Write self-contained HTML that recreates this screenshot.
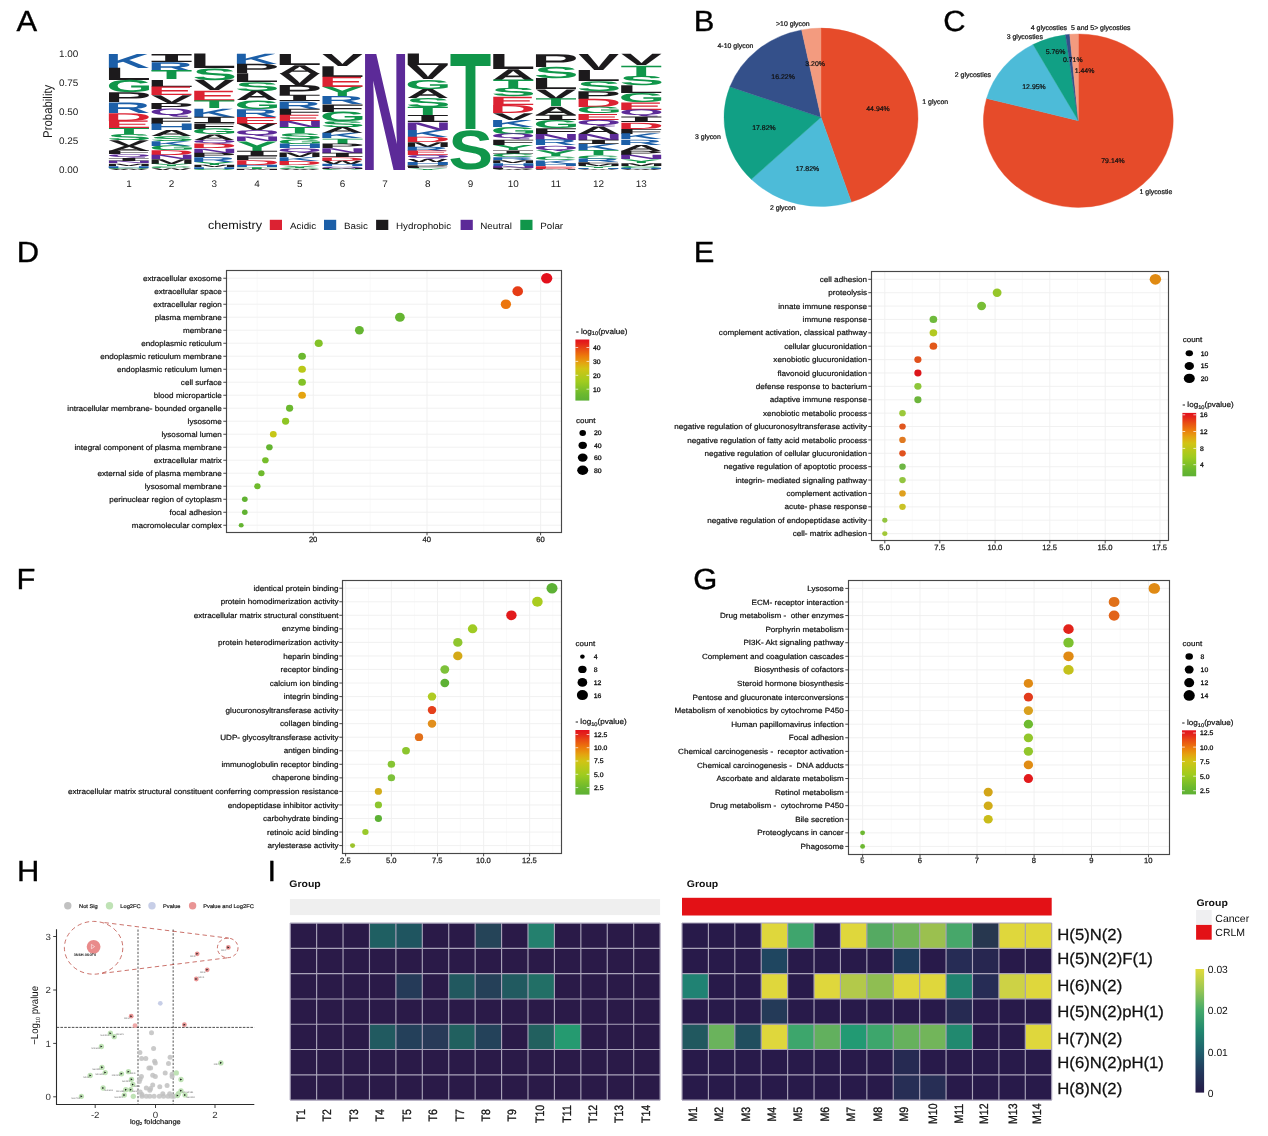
<!DOCTYPE html>
<html><head><meta charset="utf-8"><title>Figure</title>
<style>
html,body{margin:0;padding:0;background:#fff}
svg{display:block}
svg text{font-family:'Liberation Sans', sans-serif;text-rendering:geometricPrecision;}
</style></head><body>
<svg width="1268" height="1136" viewBox="0 0 1268 1136">
<rect width="1268" height="1136" fill="#fff"/>
<text transform="translate(16.40,31.00) scale(1.060,1)" font-size="29.2" stroke="#000" stroke-width="0.35">A</text>
<text transform="translate(693.80,31.00) scale(1.060,1)" font-size="29.2" stroke="#000" stroke-width="0.35">B</text>
<text transform="translate(943.20,30.80) scale(1.060,1)" font-size="29.2" stroke="#000" stroke-width="0.35">C</text>
<text transform="translate(16.70,261.80) scale(1.060,1)" font-size="29.2" stroke="#000" stroke-width="0.35">D</text>
<text transform="translate(693.70,261.80) scale(1.060,1)" font-size="29.2" stroke="#000" stroke-width="0.35">E</text>
<text transform="translate(16.40,589.00) scale(1.060,1)" font-size="29.2" stroke="#000" stroke-width="0.35">F</text>
<text transform="translate(693.20,589.00) scale(1.060,1)" font-size="29.2" stroke="#000" stroke-width="0.35">G</text>
<text transform="translate(16.90,881.20) scale(1.060,1)" font-size="29.2" stroke="#000" stroke-width="0.35">H</text>
<text transform="translate(267.40,881.20) scale(1.060,1)" font-size="29.2" stroke="#000" stroke-width="0.35">I</text>
<g id="logo">
<text transform="translate(108.90,67.82) scale(0.6192,0.2023)" x="-6.69" y="0.00" font-size="100" font-weight="bold" fill="#1C5FA8">K</text>
<text transform="translate(108.90,80.07) scale(0.7794,0.1781)" x="-6.69" y="0.00" font-size="100" font-weight="bold" fill="#1C1A1C">L</text>
<text transform="translate(108.90,92.57) scale(0.5928,0.1764)" x="-4.10" y="-0.98" font-size="100" font-weight="bold" fill="#10964A">G</text>
<text transform="translate(108.90,102.32) scale(0.7068,0.1418)" x="-6.69" y="0.00" font-size="100" font-weight="bold" fill="#1C1A1C">P</text>
<text transform="translate(108.90,112.79) scale(0.6302,0.1522)" x="-6.69" y="0.00" font-size="100" font-weight="bold" fill="#1C5FA8">R</text>
<text transform="translate(108.90,120.53) scale(0.6522,0.1124)" x="-6.69" y="0.00" font-size="100" font-weight="bold" fill="#DC2232">D</text>
<text transform="translate(108.90,127.90) scale(0.7130,0.1072)" x="-6.69" y="0.00" font-size="100" font-weight="bold" fill="#DC2232">E</text>
<text transform="translate(108.90,133.97) scale(0.6793,0.0882)" x="-1.12" y="0.00" font-size="100" font-weight="bold" fill="#10964A">T</text>
<text transform="translate(108.90,140.16) scale(0.6676,0.0874)" x="-2.88" y="-0.98" font-size="100" font-weight="bold" fill="#10964A">S</text>
<text transform="translate(108.90,145.87) scale(0.6123,0.0830)" x="-0.68" y="0.00" font-size="100" font-weight="bold" fill="#1C1A1C">V</text>
<text transform="translate(108.90,150.86) scale(0.5962,0.0726)" x="-2.49" y="0.00" font-size="100" font-weight="bold" fill="#1C1A1C">A</text>
<text transform="translate(108.90,154.43) scale(0.7885,0.0519)" x="-6.69" y="0.00" font-size="100" font-weight="bold" fill="#1C1A1C">F</text>
<text transform="translate(108.90,158.00) scale(0.5757,0.0399)" x="-4.10" y="-19.68" font-size="100" font-weight="bold" fill="#5C2A98">Q</text>
<text transform="translate(108.90,160.98) scale(0.8943,0.0452)" x="-7.67" y="0.00" font-size="100" font-weight="bold" style="font-family:Liberation Mono,monospace" fill="#1C1A1C">I</text>
<text transform="translate(108.90,163.36) scale(0.6804,0.0346)" x="-6.69" y="0.00" font-size="100" font-weight="bold" fill="#5C2A98">N</text>
<text transform="translate(108.90,165.74) scale(0.5721,0.0346)" x="-6.69" y="0.00" font-size="100" font-weight="bold" fill="#1C1A1C">M</text>
<text transform="translate(108.90,167.52) scale(0.6804,0.0259)" x="-6.69" y="0.00" font-size="100" font-weight="bold" fill="#1C5FA8">H</text>
<text transform="translate(108.90,168.71) scale(0.6118,0.0168)" x="-4.10" y="-0.98" font-size="100" font-weight="bold" fill="#10964A">C</text>
<text transform="translate(108.90,169.90) scale(0.4247,0.0173)" x="-0.10" y="0.00" font-size="100" font-weight="bold" fill="#1C1A1C">W</text>
<text transform="translate(151.60,61.87) scale(0.8943,0.1210)" x="-7.67" y="0.00" font-size="100" font-weight="bold" style="font-family:Liberation Mono,monospace" fill="#1C1A1C">I</text>
<text transform="translate(151.60,70.56) scale(0.6302,0.1262)" x="-6.69" y="0.00" font-size="100" font-weight="bold" fill="#1C5FA8">R</text>
<text transform="translate(151.60,79.48) scale(0.6793,0.1297)" x="-1.12" y="0.00" font-size="100" font-weight="bold" fill="#10964A">T</text>
<text transform="translate(151.60,86.62) scale(0.7794,0.1038)" x="-6.69" y="0.00" font-size="100" font-weight="bold" fill="#1C1A1C">L</text>
<text transform="translate(151.60,95.18) scale(0.7130,0.1245)" x="-6.69" y="0.00" font-size="100" font-weight="bold" fill="#DC2232">E</text>
<text transform="translate(151.60,102.92) scale(0.6123,0.1124)" x="-0.68" y="0.00" font-size="100" font-weight="bold" fill="#1C1A1C">V</text>
<text transform="translate(151.60,108.87) scale(0.7068,0.0865)" x="-6.69" y="0.00" font-size="100" font-weight="bold" fill="#1C1A1C">P</text>
<text transform="translate(151.60,117.19) scale(0.5757,0.0931)" x="-4.10" y="-19.68" font-size="100" font-weight="bold" fill="#5C2A98">Q</text>
<text transform="translate(151.60,123.50) scale(0.7885,0.0917)" x="-6.69" y="0.00" font-size="100" font-weight="bold" fill="#1C1A1C">F</text>
<text transform="translate(151.60,130.04) scale(0.6804,0.0951)" x="-6.69" y="0.00" font-size="100" font-weight="bold" fill="#1C5FA8">H</text>
<text transform="translate(151.60,135.99) scale(0.5962,0.0865)" x="-2.49" y="0.00" font-size="100" font-weight="bold" fill="#1C1A1C">A</text>
<text transform="translate(151.60,140.75) scale(0.6676,0.0672)" x="-2.88" y="-0.98" font-size="100" font-weight="bold" fill="#10964A">S</text>
<text transform="translate(151.60,145.51) scale(0.6192,0.0692)" x="-6.69" y="0.00" font-size="100" font-weight="bold" fill="#1C5FA8">K</text>
<text transform="translate(151.60,150.27) scale(0.5928,0.0672)" x="-4.10" y="-0.98" font-size="100" font-weight="bold" fill="#10964A">G</text>
<text transform="translate(151.60,155.03) scale(0.6522,0.0692)" x="-6.69" y="0.00" font-size="100" font-weight="bold" fill="#DC2232">D</text>
<text transform="translate(151.60,159.19) scale(0.6804,0.0605)" x="-6.69" y="0.00" font-size="100" font-weight="bold" fill="#5C2A98">N</text>
<text transform="translate(151.60,163.95) scale(0.5721,0.0692)" x="-6.69" y="0.00" font-size="100" font-weight="bold" fill="#1C1A1C">M</text>
<text transform="translate(151.60,166.33) scale(0.6311,0.0346)" x="-1.71" y="0.00" font-size="100" font-weight="bold" fill="#10964A">Y</text>
<text transform="translate(151.60,168.12) scale(0.6118,0.0252)" x="-4.10" y="-0.98" font-size="100" font-weight="bold" fill="#10964A">C</text>
<text transform="translate(151.60,169.90) scale(0.4247,0.0259)" x="-0.10" y="0.00" font-size="100" font-weight="bold" fill="#1C1A1C">W</text>
<text transform="translate(194.30,68.41) scale(0.7794,0.2110)" x="-6.69" y="0.00" font-size="100" font-weight="bold" fill="#1C1A1C">L</text>
<text transform="translate(194.30,80.07) scale(0.6676,0.1647)" x="-2.88" y="-0.98" font-size="100" font-weight="bold" fill="#10964A">S</text>
<text transform="translate(194.30,90.19) scale(0.6123,0.1470)" x="-0.68" y="0.00" font-size="100" font-weight="bold" fill="#1C1A1C">V</text>
<text transform="translate(194.30,100.54) scale(0.7130,0.1504)" x="-6.69" y="0.00" font-size="100" font-weight="bold" fill="#DC2232">E</text>
<text transform="translate(194.30,108.27) scale(0.6793,0.1124)" x="-1.12" y="0.00" font-size="100" font-weight="bold" fill="#10964A">T</text>
<text transform="translate(194.30,116.60) scale(0.6192,0.1211)" x="-6.69" y="0.00" font-size="100" font-weight="bold" fill="#1C5FA8">K</text>
<text transform="translate(194.30,122.91) scale(0.8943,0.0957)" x="-7.67" y="0.00" font-size="100" font-weight="bold" style="font-family:Liberation Mono,monospace" fill="#1C1A1C">I</text>
<text transform="translate(194.30,128.50) scale(0.7885,0.0813)" x="-6.69" y="0.00" font-size="100" font-weight="bold" fill="#1C1A1C">F</text>
<text transform="translate(194.30,134.21) scale(0.5928,0.0807)" x="-4.10" y="-0.98" font-size="100" font-weight="bold" fill="#10964A">G</text>
<text transform="translate(194.30,139.80) scale(0.5962,0.0813)" x="-2.49" y="0.00" font-size="100" font-weight="bold" fill="#1C1A1C">A</text>
<text transform="translate(194.30,143.96) scale(0.5757,0.0465)" x="-4.10" y="-19.68" font-size="100" font-weight="bold" fill="#5C2A98">Q</text>
<text transform="translate(194.30,148.48) scale(0.6522,0.0657)" x="-6.69" y="0.00" font-size="100" font-weight="bold" fill="#DC2232">D</text>
<text transform="translate(194.30,152.65) scale(0.6804,0.0605)" x="-6.69" y="0.00" font-size="100" font-weight="bold" fill="#5C2A98">N</text>
<text transform="translate(194.30,156.81) scale(0.7068,0.0605)" x="-6.69" y="0.00" font-size="100" font-weight="bold" fill="#1C1A1C">P</text>
<text transform="translate(194.30,161.57) scale(0.6302,0.0692)" x="-6.69" y="0.00" font-size="100" font-weight="bold" fill="#1C5FA8">R</text>
<text transform="translate(194.30,164.55) scale(0.6311,0.0432)" x="-1.71" y="0.00" font-size="100" font-weight="bold" fill="#10964A">Y</text>
<text transform="translate(194.30,166.93) scale(0.5721,0.0346)" x="-6.69" y="0.00" font-size="100" font-weight="bold" fill="#1C1A1C">M</text>
<text transform="translate(194.30,168.71) scale(0.6804,0.0259)" x="-6.69" y="0.00" font-size="100" font-weight="bold" fill="#1C5FA8">H</text>
<text transform="translate(194.30,169.90) scale(0.6118,0.0168)" x="-4.10" y="-0.98" font-size="100" font-weight="bold" fill="#10964A">C</text>
<text transform="translate(237.00,64.01) scale(0.6192,0.1470)" x="-6.69" y="0.00" font-size="100" font-weight="bold" fill="#1C5FA8">K</text>
<text transform="translate(237.00,73.17) scale(0.7068,0.1332)" x="-6.69" y="0.00" font-size="100" font-weight="bold" fill="#1C1A1C">P</text>
<text transform="translate(237.00,81.86) scale(0.7794,0.1262)" x="-6.69" y="0.00" font-size="100" font-weight="bold" fill="#1C1A1C">L</text>
<text transform="translate(237.00,90.78) scale(0.6676,0.1260)" x="-2.88" y="-0.98" font-size="100" font-weight="bold" fill="#10964A">S</text>
<text transform="translate(237.00,100.30) scale(0.5962,0.1383)" x="-2.49" y="0.00" font-size="100" font-weight="bold" fill="#1C1A1C">A</text>
<text transform="translate(237.00,108.87) scale(0.5928,0.1210)" x="-4.10" y="-0.98" font-size="100" font-weight="bold" fill="#10964A">G</text>
<text transform="translate(237.00,116.60) scale(0.6302,0.1124)" x="-6.69" y="0.00" font-size="100" font-weight="bold" fill="#1C5FA8">R</text>
<text transform="translate(237.00,123.50) scale(0.7130,0.1003)" x="-6.69" y="0.00" font-size="100" font-weight="bold" fill="#DC2232">E</text>
<text transform="translate(237.00,130.04) scale(0.6123,0.0951)" x="-0.68" y="0.00" font-size="100" font-weight="bold" fill="#1C1A1C">V</text>
<text transform="translate(237.00,136.59) scale(0.5757,0.0731)" x="-4.10" y="-19.68" font-size="100" font-weight="bold" fill="#5C2A98">Q</text>
<text transform="translate(237.00,141.11) scale(0.6804,0.0657)" x="-6.69" y="0.00" font-size="100" font-weight="bold" fill="#5C2A98">N</text>
<text transform="translate(237.00,150.51) scale(0.6311,0.1366)" x="-1.71" y="0.00" font-size="100" font-weight="bold" fill="#10964A">Y</text>
<text transform="translate(237.00,155.62) scale(0.8943,0.0777)" x="-7.67" y="0.00" font-size="100" font-weight="bold" style="font-family:Liberation Mono,monospace" fill="#1C1A1C">I</text>
<text transform="translate(237.00,159.79) scale(0.7885,0.0605)" x="-6.69" y="0.00" font-size="100" font-weight="bold" fill="#1C1A1C">F</text>
<text transform="translate(237.00,164.55) scale(0.6522,0.0692)" x="-6.69" y="0.00" font-size="100" font-weight="bold" fill="#DC2232">D</text>
<text transform="translate(237.00,166.93) scale(0.6804,0.0346)" x="-6.69" y="0.00" font-size="100" font-weight="bold" fill="#1C5FA8">H</text>
<text transform="translate(237.00,168.71) scale(0.6793,0.0259)" x="-1.12" y="0.00" font-size="100" font-weight="bold" fill="#10964A">T</text>
<text transform="translate(237.00,169.90) scale(0.5721,0.0173)" x="-6.69" y="0.00" font-size="100" font-weight="bold" fill="#1C1A1C">M</text>
<text transform="translate(279.70,64.85) scale(0.7794,0.1591)" x="-6.69" y="0.00" font-size="100" font-weight="bold" fill="#1C1A1C">L</text>
<text transform="translate(279.70,73.53) scale(0.5962,0.1262)" x="-2.49" y="0.00" font-size="100" font-weight="bold" fill="#1C1A1C">A</text>
<text transform="translate(279.70,85.19) scale(0.6123,0.1695)" x="-0.68" y="0.00" font-size="100" font-weight="bold" fill="#1C1A1C">V</text>
<text transform="translate(279.70,95.18) scale(0.7068,0.1453)" x="-6.69" y="0.00" font-size="100" font-weight="bold" fill="#1C1A1C">P</text>
<text transform="translate(279.70,101.49) scale(0.8943,0.0957)" x="-7.67" y="0.00" font-size="100" font-weight="bold" style="font-family:Liberation Mono,monospace" fill="#1C1A1C">I</text>
<text transform="translate(279.70,108.87) scale(0.6302,0.1072)" x="-6.69" y="0.00" font-size="100" font-weight="bold" fill="#1C5FA8">R</text>
<text transform="translate(279.70,115.17) scale(0.7885,0.0917)" x="-6.69" y="0.00" font-size="100" font-weight="bold" fill="#1C1A1C">F</text>
<text transform="translate(279.70,121.36) scale(0.7130,0.0899)" x="-6.69" y="0.00" font-size="100" font-weight="bold" fill="#DC2232">E</text>
<text transform="translate(279.70,127.31) scale(0.6804,0.0865)" x="-6.69" y="0.00" font-size="100" font-weight="bold" fill="#5C2A98">N</text>
<text transform="translate(279.70,133.26) scale(0.6793,0.0865)" x="-1.12" y="0.00" font-size="100" font-weight="bold" fill="#10964A">T</text>
<text transform="translate(279.70,138.97) scale(0.6676,0.0807)" x="-2.88" y="-0.98" font-size="100" font-weight="bold" fill="#10964A">S</text>
<text transform="translate(279.70,143.73) scale(0.5928,0.0672)" x="-4.10" y="-0.98" font-size="100" font-weight="bold" fill="#10964A">G</text>
<text transform="translate(279.70,148.13) scale(0.6804,0.0640)" x="-6.69" y="0.00" font-size="100" font-weight="bold" fill="#1C5FA8">H</text>
<text transform="translate(279.70,152.89) scale(0.5757,0.0532)" x="-4.10" y="-19.68" font-size="100" font-weight="bold" fill="#5C2A98">Q</text>
<text transform="translate(279.70,157.41) scale(0.5721,0.0657)" x="-6.69" y="0.00" font-size="100" font-weight="bold" fill="#1C1A1C">M</text>
<text transform="translate(279.70,161.21) scale(0.6192,0.0553)" x="-6.69" y="0.00" font-size="100" font-weight="bold" fill="#1C5FA8">K</text>
<text transform="translate(279.70,165.14) scale(0.6522,0.0571)" x="-6.69" y="0.00" font-size="100" font-weight="bold" fill="#DC2232">D</text>
<text transform="translate(279.70,167.52) scale(0.6311,0.0346)" x="-1.71" y="0.00" font-size="100" font-weight="bold" fill="#10964A">Y</text>
<text transform="translate(279.70,168.95) scale(0.6118,0.0202)" x="-4.10" y="-0.98" font-size="100" font-weight="bold" fill="#10964A">C</text>
<text transform="translate(279.70,169.90) scale(0.4247,0.0138)" x="-0.10" y="0.00" font-size="100" font-weight="bold" fill="#1C1A1C">W</text>
<text transform="translate(322.40,65.80) scale(0.6123,0.1729)" x="-0.68" y="0.00" font-size="100" font-weight="bold" fill="#1C1A1C">V</text>
<text transform="translate(322.40,76.51) scale(0.7794,0.1556)" x="-6.69" y="0.00" font-size="100" font-weight="bold" fill="#1C1A1C">L</text>
<text transform="translate(322.40,86.86) scale(0.7130,0.1504)" x="-6.69" y="0.00" font-size="100" font-weight="bold" fill="#DC2232">E</text>
<text transform="translate(322.40,96.14) scale(0.6311,0.1349)" x="-1.71" y="0.00" font-size="100" font-weight="bold" fill="#10964A">Y</text>
<text transform="translate(322.40,104.11) scale(0.6302,0.1159)" x="-6.69" y="0.00" font-size="100" font-weight="bold" fill="#1C5FA8">R</text>
<text transform="translate(322.40,111.60) scale(0.7885,0.1089)" x="-6.69" y="0.00" font-size="100" font-weight="bold" fill="#1C1A1C">F</text>
<text transform="translate(322.40,121.12) scale(0.5928,0.1344)" x="-4.10" y="-0.98" font-size="100" font-weight="bold" fill="#10964A">G</text>
<text transform="translate(322.40,127.07) scale(0.6676,0.0840)" x="-2.88" y="-0.98" font-size="100" font-weight="bold" fill="#10964A">S</text>
<text transform="translate(322.40,133.02) scale(0.5962,0.0865)" x="-2.49" y="0.00" font-size="100" font-weight="bold" fill="#1C1A1C">A</text>
<text transform="translate(322.40,138.37) scale(0.6192,0.0778)" x="-6.69" y="0.00" font-size="100" font-weight="bold" fill="#1C5FA8">K</text>
<text transform="translate(322.40,143.73) scale(0.6793,0.0778)" x="-1.12" y="0.00" font-size="100" font-weight="bold" fill="#10964A">T</text>
<text transform="translate(322.40,148.13) scale(0.7068,0.0640)" x="-6.69" y="0.00" font-size="100" font-weight="bold" fill="#1C1A1C">P</text>
<text transform="translate(322.40,152.89) scale(0.6804,0.0692)" x="-6.69" y="0.00" font-size="100" font-weight="bold" fill="#5C2A98">N</text>
<text transform="translate(322.40,157.05) scale(0.8943,0.0632)" x="-7.67" y="0.00" font-size="100" font-weight="bold" style="font-family:Liberation Mono,monospace" fill="#1C1A1C">I</text>
<text transform="translate(322.40,160.62) scale(0.6522,0.0519)" x="-6.69" y="0.00" font-size="100" font-weight="bold" fill="#DC2232">D</text>
<text transform="translate(322.40,163.95) scale(0.4247,0.0484)" x="-0.10" y="0.00" font-size="100" font-weight="bold" fill="#1C1A1C">W</text>
<text transform="translate(322.40,166.33) scale(0.6804,0.0346)" x="-6.69" y="0.00" font-size="100" font-weight="bold" fill="#1C5FA8">H</text>
<text transform="translate(322.40,168.12) scale(0.5757,0.0199)" x="-4.10" y="-19.68" font-size="100" font-weight="bold" fill="#5C2A98">Q</text>
<text transform="translate(322.40,169.07) scale(0.5721,0.0138)" x="-6.69" y="0.00" font-size="100" font-weight="bold" fill="#1C1A1C">M</text>
<text transform="translate(322.40,169.90) scale(0.6118,0.0118)" x="-4.10" y="-0.98" font-size="100" font-weight="bold" fill="#10964A">C</text>
<text transform="translate(365.10,169.90) scale(0.6804,1.6861)" x="-6.69" y="0.00" font-size="100" font-weight="bold" fill="#5C2A98">N</text>
<text transform="translate(407.80,65.44) scale(0.7794,0.1677)" x="-6.69" y="0.00" font-size="100" font-weight="bold" fill="#1C1A1C">L</text>
<text transform="translate(407.80,79.48) scale(0.6123,0.2041)" x="-0.68" y="0.00" font-size="100" font-weight="bold" fill="#1C1A1C">V</text>
<text transform="translate(407.80,88.64) scale(0.5928,0.1294)" x="-4.10" y="-0.98" font-size="100" font-weight="bold" fill="#10964A">G</text>
<text transform="translate(407.80,97.56) scale(0.5962,0.1297)" x="-2.49" y="0.00" font-size="100" font-weight="bold" fill="#1C1A1C">A</text>
<text transform="translate(407.80,106.84) scale(0.6676,0.1311)" x="-2.88" y="-0.98" font-size="100" font-weight="bold" fill="#10964A">S</text>
<text transform="translate(407.80,115.17) scale(0.6793,0.1211)" x="-1.12" y="0.00" font-size="100" font-weight="bold" fill="#10964A">T</text>
<text transform="translate(407.80,122.31) scale(0.8943,0.1084)" x="-7.67" y="0.00" font-size="100" font-weight="bold" style="font-family:Liberation Mono,monospace" fill="#1C1A1C">I</text>
<text transform="translate(407.80,129.69) scale(0.6804,0.1072)" x="-6.69" y="0.00" font-size="100" font-weight="bold" fill="#5C2A98">N</text>
<text transform="translate(407.80,136.59) scale(0.6192,0.1003)" x="-6.69" y="0.00" font-size="100" font-weight="bold" fill="#1C5FA8">K</text>
<text transform="translate(407.80,141.94) scale(0.6522,0.0778)" x="-6.69" y="0.00" font-size="100" font-weight="bold" fill="#DC2232">D</text>
<text transform="translate(407.80,146.70) scale(0.5721,0.0692)" x="-6.69" y="0.00" font-size="100" font-weight="bold" fill="#1C1A1C">M</text>
<text transform="translate(407.80,150.86) scale(0.6302,0.0605)" x="-6.69" y="0.00" font-size="100" font-weight="bold" fill="#1C5FA8">R</text>
<text transform="translate(407.80,155.27) scale(0.7130,0.0640)" x="-6.69" y="0.00" font-size="100" font-weight="bold" fill="#DC2232">E</text>
<text transform="translate(407.80,159.19) scale(0.5757,0.0439)" x="-4.10" y="-19.68" font-size="100" font-weight="bold" fill="#5C2A98">Q</text>
<text transform="translate(407.80,162.17) scale(0.4247,0.0432)" x="-0.10" y="0.00" font-size="100" font-weight="bold" fill="#1C1A1C">W</text>
<text transform="translate(407.80,165.14) scale(0.6804,0.0432)" x="-6.69" y="0.00" font-size="100" font-weight="bold" fill="#1C5FA8">H</text>
<text transform="translate(407.80,166.93) scale(0.7068,0.0259)" x="-6.69" y="0.00" font-size="100" font-weight="bold" fill="#1C1A1C">P</text>
<text transform="translate(407.80,168.47) scale(0.7885,0.0225)" x="-6.69" y="0.00" font-size="100" font-weight="bold" fill="#1C1A1C">F</text>
<text transform="translate(407.80,169.90) scale(0.6311,0.0208)" x="-1.71" y="0.00" font-size="100" font-weight="bold" fill="#10964A">Y</text>
<text transform="translate(450.50,128.97) scale(0.6793,1.0912)" x="-1.12" y="0.00" font-size="100" font-weight="bold" fill="#10964A">T</text>
<text transform="translate(450.50,169.90) scale(0.6676,0.5545)" x="-2.88" y="-0.98" font-size="100" font-weight="bold" fill="#10964A">S</text>
<text transform="translate(493.20,68.79) scale(0.7794,0.2164)" x="-6.69" y="0.00" font-size="100" font-weight="bold" fill="#1C1A1C">L</text>
<text transform="translate(493.20,79.57) scale(0.5962,0.1567)" x="-2.49" y="0.00" font-size="100" font-weight="bold" fill="#1C1A1C">A</text>
<text transform="translate(493.20,87.93) scale(0.6793,0.1216)" x="-1.12" y="0.00" font-size="100" font-weight="bold" fill="#10964A">T</text>
<text transform="translate(493.20,96.44) scale(0.6676,0.1202)" x="-2.88" y="-0.98" font-size="100" font-weight="bold" fill="#10964A">S</text>
<text transform="translate(493.20,104.67) scale(0.7130,0.1196)" x="-6.69" y="0.00" font-size="100" font-weight="bold" fill="#DC2232">E</text>
<text transform="translate(493.20,112.75) scale(0.6522,0.1175)" x="-6.69" y="0.00" font-size="100" font-weight="bold" fill="#DC2232">D</text>
<text transform="translate(493.20,119.56) scale(0.6123,0.0989)" x="-0.68" y="0.00" font-size="100" font-weight="bold" fill="#1C1A1C">V</text>
<text transform="translate(493.20,126.65) scale(0.6192,0.1031)" x="-6.69" y="0.00" font-size="100" font-weight="bold" fill="#1C5FA8">K</text>
<text transform="translate(493.20,133.74) scale(0.5928,0.1001)" x="-4.10" y="-0.98" font-size="100" font-weight="bold" fill="#10964A">G</text>
<text transform="translate(493.20,139.69) scale(0.5757,0.0665)" x="-4.10" y="-19.68" font-size="100" font-weight="bold" fill="#5C2A98">Q</text>
<text transform="translate(493.20,145.08) scale(0.7885,0.0783)" x="-6.69" y="0.00" font-size="100" font-weight="bold" fill="#1C1A1C">F</text>
<text transform="translate(493.20,150.05) scale(0.6311,0.0721)" x="-1.71" y="0.00" font-size="100" font-weight="bold" fill="#10964A">Y</text>
<text transform="translate(493.20,153.59) scale(0.8943,0.0538)" x="-7.67" y="0.00" font-size="100" font-weight="bold" style="font-family:Liberation Mono,monospace" fill="#1C1A1C">I</text>
<text transform="translate(493.20,157.14) scale(0.6118,0.0501)" x="-4.10" y="-0.98" font-size="100" font-weight="bold" fill="#10964A">C</text>
<text transform="translate(493.20,159.97) scale(0.6302,0.0412)" x="-6.69" y="0.00" font-size="100" font-weight="bold" fill="#1C5FA8">R</text>
<text transform="translate(493.20,162.81) scale(0.5721,0.0412)" x="-6.69" y="0.00" font-size="100" font-weight="bold" fill="#1C1A1C">M</text>
<text transform="translate(493.20,165.65) scale(0.6804,0.0412)" x="-6.69" y="0.00" font-size="100" font-weight="bold" fill="#1C5FA8">H</text>
<text transform="translate(493.20,167.77) scale(0.6804,0.0309)" x="-6.69" y="0.00" font-size="100" font-weight="bold" fill="#5C2A98">N</text>
<text transform="translate(493.20,168.91) scale(0.7068,0.0165)" x="-6.69" y="0.00" font-size="100" font-weight="bold" fill="#1C1A1C">P</text>
<text transform="translate(493.20,169.90) scale(0.4247,0.0144)" x="-0.10" y="0.00" font-size="100" font-weight="bold" fill="#1C1A1C">W</text>
<text transform="translate(535.90,66.66) scale(0.7068,0.1855)" x="-6.69" y="0.00" font-size="100" font-weight="bold" fill="#1C1A1C">P</text>
<text transform="translate(535.90,78.01) scale(0.6676,0.1602)" x="-2.88" y="-0.98" font-size="100" font-weight="bold" fill="#10964A">S</text>
<text transform="translate(535.90,89.07) scale(0.7794,0.1608)" x="-6.69" y="0.00" font-size="100" font-weight="bold" fill="#1C1A1C">L</text>
<text transform="translate(535.90,98.57) scale(0.6123,0.1381)" x="-0.68" y="0.00" font-size="100" font-weight="bold" fill="#1C1A1C">V</text>
<text transform="translate(535.90,106.37) scale(0.6793,0.1134)" x="-1.12" y="0.00" font-size="100" font-weight="bold" fill="#10964A">T</text>
<text transform="translate(535.90,114.59) scale(0.5962,0.1196)" x="-2.49" y="0.00" font-size="100" font-weight="bold" fill="#1C1A1C">A</text>
<text transform="translate(535.90,119.84) scale(0.8943,0.0797)" x="-7.67" y="0.00" font-size="100" font-weight="bold" style="font-family:Liberation Mono,monospace" fill="#1C1A1C">I</text>
<text transform="translate(535.90,128.07) scale(0.5928,0.1162)" x="-4.10" y="-0.98" font-size="100" font-weight="bold" fill="#10964A">G</text>
<text transform="translate(535.90,133.74) scale(0.7885,0.0824)" x="-6.69" y="0.00" font-size="100" font-weight="bold" fill="#1C1A1C">F</text>
<text transform="translate(535.90,139.69) scale(0.6804,0.0866)" x="-6.69" y="0.00" font-size="100" font-weight="bold" fill="#5C2A98">N</text>
<text transform="translate(535.90,145.37) scale(0.6302,0.0824)" x="-6.69" y="0.00" font-size="100" font-weight="bold" fill="#1C5FA8">R</text>
<text transform="translate(535.90,150.76) scale(0.5757,0.0602)" x="-4.10" y="-19.68" font-size="100" font-weight="bold" fill="#5C2A98">Q</text>
<text transform="translate(535.90,156.43) scale(0.6311,0.0824)" x="-1.71" y="0.00" font-size="100" font-weight="bold" fill="#10964A">Y</text>
<text transform="translate(535.90,159.97) scale(0.6118,0.0501)" x="-4.10" y="-0.98" font-size="100" font-weight="bold" fill="#10964A">C</text>
<text transform="translate(535.90,163.52) scale(0.6192,0.0515)" x="-6.69" y="0.00" font-size="100" font-weight="bold" fill="#1C5FA8">K</text>
<text transform="translate(535.90,166.35) scale(0.6804,0.0412)" x="-6.69" y="0.00" font-size="100" font-weight="bold" fill="#1C5FA8">H</text>
<text transform="translate(535.90,168.20) scale(0.7130,0.0268)" x="-6.69" y="0.00" font-size="100" font-weight="bold" fill="#DC2232">E</text>
<text transform="translate(535.90,169.19) scale(0.6522,0.0144)" x="-6.69" y="0.00" font-size="100" font-weight="bold" fill="#DC2232">D</text>
<text transform="translate(535.90,169.90) scale(0.5721,0.0103)" x="-6.69" y="0.00" font-size="100" font-weight="bold" fill="#1C1A1C">M</text>
<text transform="translate(578.60,69.92) scale(0.6123,0.2329)" x="-0.68" y="0.00" font-size="100" font-weight="bold" fill="#1C1A1C">V</text>
<text transform="translate(578.60,80.84) scale(0.7794,0.1587)" x="-6.69" y="0.00" font-size="100" font-weight="bold" fill="#1C1A1C">L</text>
<text transform="translate(578.60,90.77) scale(0.6676,0.1402)" x="-2.88" y="-0.98" font-size="100" font-weight="bold" fill="#10964A">S</text>
<text transform="translate(578.60,98.57) scale(0.7068,0.1134)" x="-6.69" y="0.00" font-size="100" font-weight="bold" fill="#1C1A1C">P</text>
<text transform="translate(578.60,106.79) scale(0.6522,0.1196)" x="-6.69" y="0.00" font-size="100" font-weight="bold" fill="#DC2232">D</text>
<text transform="translate(578.60,113.46) scale(0.5928,0.0941)" x="-4.10" y="-0.98" font-size="100" font-weight="bold" fill="#10964A">G</text>
<text transform="translate(578.60,119.56) scale(0.7130,0.0886)" x="-6.69" y="0.00" font-size="100" font-weight="bold" fill="#DC2232">E</text>
<text transform="translate(578.60,126.22) scale(0.5757,0.0745)" x="-4.10" y="-19.68" font-size="100" font-weight="bold" fill="#5C2A98">Q</text>
<text transform="translate(578.60,133.74) scale(0.5962,0.1092)" x="-2.49" y="0.00" font-size="100" font-weight="bold" fill="#1C1A1C">A</text>
<text transform="translate(578.60,139.69) scale(0.6804,0.0866)" x="-6.69" y="0.00" font-size="100" font-weight="bold" fill="#5C2A98">N</text>
<text transform="translate(578.60,143.95) scale(0.8943,0.0646)" x="-7.67" y="0.00" font-size="100" font-weight="bold" style="font-family:Liberation Mono,monospace" fill="#1C1A1C">I</text>
<text transform="translate(578.60,150.05) scale(0.6192,0.0886)" x="-6.69" y="0.00" font-size="100" font-weight="bold" fill="#1C5FA8">K</text>
<text transform="translate(578.60,155.01) scale(0.6793,0.0721)" x="-1.12" y="0.00" font-size="100" font-weight="bold" fill="#10964A">T</text>
<text transform="translate(578.60,158.56) scale(0.6118,0.0501)" x="-4.10" y="-0.98" font-size="100" font-weight="bold" fill="#10964A">C</text>
<text transform="translate(578.60,162.10) scale(0.6302,0.0515)" x="-6.69" y="0.00" font-size="100" font-weight="bold" fill="#1C5FA8">R</text>
<text transform="translate(578.60,163.94) scale(0.7885,0.0268)" x="-6.69" y="0.00" font-size="100" font-weight="bold" fill="#1C1A1C">F</text>
<text transform="translate(578.60,166.35) scale(0.5721,0.0350)" x="-6.69" y="0.00" font-size="100" font-weight="bold" fill="#1C1A1C">M</text>
<text transform="translate(578.60,168.20) scale(0.6311,0.0268)" x="-1.71" y="0.00" font-size="100" font-weight="bold" fill="#10964A">Y</text>
<text transform="translate(578.60,169.19) scale(0.6804,0.0144)" x="-6.69" y="0.00" font-size="100" font-weight="bold" fill="#1C5FA8">H</text>
<text transform="translate(578.60,169.90) scale(0.4247,0.0103)" x="-0.10" y="0.00" font-size="100" font-weight="bold" fill="#1C1A1C">W</text>
<text transform="translate(621.30,65.24) scale(0.6123,0.1649)" x="-0.68" y="0.00" font-size="100" font-weight="bold" fill="#1C1A1C">V</text>
<text transform="translate(621.30,75.60) scale(0.6793,0.1505)" x="-1.12" y="0.00" font-size="100" font-weight="bold" fill="#10964A">T</text>
<text transform="translate(621.30,85.10) scale(0.6676,0.1342)" x="-2.88" y="-0.98" font-size="100" font-weight="bold" fill="#10964A">S</text>
<text transform="translate(621.30,92.90) scale(0.7794,0.1134)" x="-6.69" y="0.00" font-size="100" font-weight="bold" fill="#1C1A1C">L</text>
<text transform="translate(621.30,102.12) scale(0.5928,0.1302)" x="-4.10" y="-0.98" font-size="100" font-weight="bold" fill="#10964A">G</text>
<text transform="translate(621.30,109.63) scale(0.7130,0.1092)" x="-6.69" y="0.00" font-size="100" font-weight="bold" fill="#DC2232">E</text>
<text transform="translate(621.30,117.01) scale(0.5757,0.0824)" x="-4.10" y="-19.68" font-size="100" font-weight="bold" fill="#5C2A98">Q</text>
<text transform="translate(621.30,122.39) scale(0.8943,0.0818)" x="-7.67" y="0.00" font-size="100" font-weight="bold" style="font-family:Liberation Mono,monospace" fill="#1C1A1C">I</text>
<text transform="translate(621.30,128.78) scale(0.6522,0.0928)" x="-6.69" y="0.00" font-size="100" font-weight="bold" fill="#DC2232">D</text>
<text transform="translate(621.30,133.74) scale(0.7885,0.0721)" x="-6.69" y="0.00" font-size="100" font-weight="bold" fill="#1C1A1C">F</text>
<text transform="translate(621.30,139.41) scale(0.6192,0.0824)" x="-6.69" y="0.00" font-size="100" font-weight="bold" fill="#1C5FA8">K</text>
<text transform="translate(621.30,144.66) scale(0.6302,0.0763)" x="-6.69" y="0.00" font-size="100" font-weight="bold" fill="#1C5FA8">R</text>
<text transform="translate(621.30,150.76) scale(0.5962,0.0886)" x="-2.49" y="0.00" font-size="100" font-weight="bold" fill="#1C1A1C">A</text>
<text transform="translate(621.30,155.01) scale(0.7068,0.0618)" x="-6.69" y="0.00" font-size="100" font-weight="bold" fill="#1C1A1C">P</text>
<text transform="translate(621.30,159.26) scale(0.6804,0.0618)" x="-6.69" y="0.00" font-size="100" font-weight="bold" fill="#5C2A98">N</text>
<text transform="translate(621.30,162.81) scale(0.6311,0.0515)" x="-1.71" y="0.00" font-size="100" font-weight="bold" fill="#10964A">Y</text>
<text transform="translate(621.30,165.65) scale(0.5721,0.0412)" x="-6.69" y="0.00" font-size="100" font-weight="bold" fill="#1C1A1C">M</text>
<text transform="translate(621.30,167.77) scale(0.6118,0.0300)" x="-4.10" y="-0.98" font-size="100" font-weight="bold" fill="#10964A">C</text>
<text transform="translate(621.30,168.91) scale(0.6804,0.0165)" x="-6.69" y="0.00" font-size="100" font-weight="bold" fill="#1C5FA8">H</text>
<text transform="translate(621.30,169.90) scale(0.4247,0.0144)" x="-0.10" y="0.00" font-size="100" font-weight="bold" fill="#1C1A1C">W</text>
</g>
<text transform="translate(78.40,57.25) scale(1.045,1)" font-size="9.5" text-anchor="end" fill="#222">1.00</text>
<text transform="translate(78.40,86.25) scale(1.045,1)" font-size="9.5" text-anchor="end" fill="#222">0.75</text>
<text transform="translate(78.40,115.25) scale(1.045,1)" font-size="9.5" text-anchor="end" fill="#222">0.50</text>
<text transform="translate(78.40,144.25) scale(1.045,1)" font-size="9.5" text-anchor="end" fill="#222">0.25</text>
<text transform="translate(78.40,173.25) scale(1.045,1)" font-size="9.5" text-anchor="end" fill="#222">0.00</text>
<text transform="translate(52.4,111.3) rotate(-90) scale(1,1.12)" font-size="11.4" text-anchor="middle" fill="#1a1a1a">Probability</text>
<text transform="translate(128.90,186.90) scale(1.045,1)" font-size="9.5" text-anchor="middle" fill="#222">1</text>
<text transform="translate(171.60,186.90) scale(1.045,1)" font-size="9.5" text-anchor="middle" fill="#222">2</text>
<text transform="translate(214.30,186.90) scale(1.045,1)" font-size="9.5" text-anchor="middle" fill="#222">3</text>
<text transform="translate(257.00,186.90) scale(1.045,1)" font-size="9.5" text-anchor="middle" fill="#222">4</text>
<text transform="translate(299.70,186.90) scale(1.045,1)" font-size="9.5" text-anchor="middle" fill="#222">5</text>
<text transform="translate(342.40,186.90) scale(1.045,1)" font-size="9.5" text-anchor="middle" fill="#222">6</text>
<text transform="translate(385.10,186.90) scale(1.045,1)" font-size="9.5" text-anchor="middle" fill="#222">7</text>
<text transform="translate(427.80,186.90) scale(1.045,1)" font-size="9.5" text-anchor="middle" fill="#222">8</text>
<text transform="translate(470.50,186.90) scale(1.045,1)" font-size="9.5" text-anchor="middle" fill="#222">9</text>
<text transform="translate(513.20,186.90) scale(1.045,1)" font-size="9.5" text-anchor="middle" fill="#222">10</text>
<text transform="translate(555.90,186.90) scale(1.045,1)" font-size="9.5" text-anchor="middle" fill="#222">11</text>
<text transform="translate(598.60,186.90) scale(1.045,1)" font-size="9.5" text-anchor="middle" fill="#222">12</text>
<text transform="translate(641.30,186.90) scale(1.045,1)" font-size="9.5" text-anchor="middle" fill="#222">13</text>
<text transform="translate(208.00,229.30) scale(1.070,1)" font-size="11.8" fill="#111">chemistry</text>
<rect x="269.8" y="219.8" width="12.2" height="10.2" fill="#DC2232"/>
<text transform="translate(290.00,228.60) scale(1.080,1)" font-size="9.1" fill="#111">Acidic</text>
<rect x="324.0" y="219.8" width="12.2" height="10.2" fill="#1C5FA8"/>
<text transform="translate(343.90,228.60) scale(1.080,1)" font-size="9.1" fill="#111">Basic</text>
<rect x="376.1" y="219.8" width="12.2" height="10.2" fill="#1C1A1C"/>
<text transform="translate(396.00,228.60) scale(1.080,1)" font-size="9.1" fill="#111">Hydrophobic</text>
<rect x="460.6" y="219.8" width="12.2" height="10.2" fill="#5C2A98"/>
<text transform="translate(480.20,228.60) scale(1.080,1)" font-size="9.1" fill="#111">Neutral</text>
<rect x="520.3" y="219.8" width="12.2" height="10.2" fill="#10964A"/>
<text transform="translate(540.20,228.60) scale(1.080,1)" font-size="9.1" fill="#111">Polar</text>
<path d="M821.00,117.30 L821.00,28.10 A97.0,89.2 0 0 1 851.32,202.03 Z" fill="#E64B2A" stroke="#E64B2A" stroke-width="0.4"/>
<path d="M821.00,117.30 L851.32,202.03 A97.0,89.2 0 0 1 751.30,179.34 Z" fill="#4DBBD8" stroke="#4DBBD8" stroke-width="0.4"/>
<path d="M821.00,117.30 L751.30,179.34 A97.0,89.2 0 0 1 729.90,86.66 Z" fill="#11A085" stroke="#11A085" stroke-width="0.4"/>
<path d="M821.00,117.30 L729.90,86.66 A97.0,89.2 0 0 1 801.63,29.90 Z" fill="#34508A" stroke="#34508A" stroke-width="0.4"/>
<path d="M821.00,117.30 L801.63,29.90 A97.0,89.2 0 0 1 821.00,28.10 Z" fill="#F39B7F" stroke="#F39B7F" stroke-width="0.4"/>
<text transform="translate(922.30,104.20) scale(1.020,1)" font-size="6.8" fill="#111" stroke="#111" stroke-width="0.22">1 glycon</text>
<text transform="translate(769.90,209.90) scale(1.020,1)" font-size="6.8" fill="#111" stroke="#111" stroke-width="0.22">2 glycon</text>
<text transform="translate(695.00,138.60) scale(1.020,1)" font-size="6.8" fill="#111" stroke="#111" stroke-width="0.22">3 glycon</text>
<text transform="translate(717.50,48.30) scale(1.020,1)" font-size="6.8" fill="#111" stroke="#111" stroke-width="0.22">4-10 glycon</text>
<text transform="translate(776.00,26.20) scale(1.020,1)" font-size="6.8" fill="#111" stroke="#111" stroke-width="0.22">&gt;10 glycon</text>
<text transform="translate(878.00,110.60) scale(1.020,1)" font-size="6.8" text-anchor="middle" fill="#111" stroke="#111" stroke-width="0.22">44.94%</text>
<text transform="translate(807.40,170.90) scale(1.020,1)" font-size="6.8" text-anchor="middle" fill="#111" stroke="#111" stroke-width="0.22">17.82%</text>
<text transform="translate(763.90,129.80) scale(1.020,1)" font-size="6.8" text-anchor="middle" fill="#111" stroke="#111" stroke-width="0.22">17.82%</text>
<text transform="translate(783.10,79.00) scale(1.020,1)" font-size="6.8" text-anchor="middle" fill="#111" stroke="#111" stroke-width="0.22">16.22%</text>
<text transform="translate(815.10,66.40) scale(1.020,1)" font-size="6.8" text-anchor="middle" fill="#111" stroke="#111" stroke-width="0.22">3.20%</text>
<path d="M1078.30,120.70 L1078.30,34.00 A94.9,86.7 0 1 1 986.59,98.40 Z" fill="#E64B2A" stroke="#E64B2A" stroke-width="0.4"/>
<path d="M1078.30,120.70 L986.59,98.40 A94.9,86.7 0 0 1 1033.05,44.49 Z" fill="#4DBBD8" stroke="#4DBBD8" stroke-width="0.4"/>
<path d="M1078.30,120.70 L1033.05,44.49 A94.9,86.7 0 0 1 1065.52,34.79 Z" fill="#11A085" stroke="#11A085" stroke-width="0.4"/>
<path d="M1078.30,120.70 L1065.52,34.79 A94.9,86.7 0 0 1 1069.73,34.35 Z" fill="#34508A" stroke="#34508A" stroke-width="0.4"/>
<path d="M1078.30,120.70 L1069.73,34.35 A94.9,86.7 0 0 1 1078.30,34.00 Z" fill="#F39B7F" stroke="#F39B7F" stroke-width="0.4"/>
<text transform="translate(1139.50,194.00) scale(1.020,1)" font-size="6.8" fill="#111" stroke="#111" stroke-width="0.22">1 glycostie</text>
<text transform="translate(954.80,77.20) scale(1.020,1)" font-size="6.8" fill="#111" stroke="#111" stroke-width="0.22">2 glycosties</text>
<text transform="translate(1006.70,38.80) scale(1.020,1)" font-size="6.8" fill="#111" stroke="#111" stroke-width="0.22">3 glycosties</text>
<text transform="translate(1030.80,30.20) scale(1.020,1)" font-size="6.8" fill="#111" stroke="#111" stroke-width="0.22">4 glycosties</text>
<text transform="translate(1071.00,30.20) scale(1.020,1)" font-size="6.8" fill="#111" stroke="#111" stroke-width="0.22">5 and 5&gt; glycosties</text>
<text transform="translate(1113.00,163.00) scale(1.020,1)" font-size="6.8" text-anchor="middle" fill="#111" stroke="#111" stroke-width="0.22">79.14%</text>
<text transform="translate(1034.00,89.40) scale(1.020,1)" font-size="6.8" text-anchor="middle" fill="#111" stroke="#111" stroke-width="0.22">12.95%</text>
<text transform="translate(1055.50,54.40) scale(1.020,1)" font-size="6.8" text-anchor="middle" fill="#111" stroke="#111" stroke-width="0.22">5.76%</text>
<text transform="translate(1072.80,62.40) scale(1.020,1)" font-size="6.8" text-anchor="middle" fill="#111" stroke="#111" stroke-width="0.22">0.71%</text>
<text transform="translate(1084.50,72.60) scale(1.020,1)" font-size="6.8" text-anchor="middle" fill="#111" stroke="#111" stroke-width="0.22">1.44%</text>
<defs><linearGradient id="gyr" x1="0" y1="1" x2="0" y2="0"><stop offset="0" stop-color="#5DB034"/><stop offset="0.11" stop-color="#6CB92E"/><stop offset="0.31" stop-color="#A0CC1E"/><stop offset="0.52" stop-color="#D2C414"/><stop offset="0.62" stop-color="#E4A410"/><stop offset="0.73" stop-color="#EC7A0C"/><stop offset="0.85" stop-color="#E84A14"/><stop offset="0.93" stop-color="#E4261A"/><stop offset="1" stop-color="#E3101C"/></linearGradient></defs>
<g>
<rect x="226.5" y="270.5" width="335.00" height="262.00" fill="#fff"/>
<line x1="257.2" y1="270.5" x2="257.2" y2="532.5" stroke="#F5F5F5" stroke-width="0.55"/>
<line x1="370.2" y1="270.5" x2="370.2" y2="532.5" stroke="#F5F5F5" stroke-width="0.55"/>
<line x1="483.8" y1="270.5" x2="483.8" y2="532.5" stroke="#F5F5F5" stroke-width="0.55"/>
<line x1="313.3" y1="270.5" x2="313.3" y2="532.5" stroke="#EFEFEF" stroke-width="0.9"/>
<line x1="427.0" y1="270.5" x2="427.0" y2="532.5" stroke="#EFEFEF" stroke-width="0.9"/>
<line x1="540.6" y1="270.5" x2="540.6" y2="532.5" stroke="#EFEFEF" stroke-width="0.9"/>
<line x1="226.5" y1="278.25" x2="561.5" y2="278.25" stroke="#EFEFEF" stroke-width="0.9"/>
<line x1="226.5" y1="291.25" x2="561.5" y2="291.25" stroke="#EFEFEF" stroke-width="0.9"/>
<line x1="226.5" y1="304.25" x2="561.5" y2="304.25" stroke="#EFEFEF" stroke-width="0.9"/>
<line x1="226.5" y1="317.25" x2="561.5" y2="317.25" stroke="#EFEFEF" stroke-width="0.9"/>
<line x1="226.5" y1="330.25" x2="561.5" y2="330.25" stroke="#EFEFEF" stroke-width="0.9"/>
<line x1="226.5" y1="343.25" x2="561.5" y2="343.25" stroke="#EFEFEF" stroke-width="0.9"/>
<line x1="226.5" y1="356.25" x2="561.5" y2="356.25" stroke="#EFEFEF" stroke-width="0.9"/>
<line x1="226.5" y1="369.25" x2="561.5" y2="369.25" stroke="#EFEFEF" stroke-width="0.9"/>
<line x1="226.5" y1="382.25" x2="561.5" y2="382.25" stroke="#EFEFEF" stroke-width="0.9"/>
<line x1="226.5" y1="395.25" x2="561.5" y2="395.25" stroke="#EFEFEF" stroke-width="0.9"/>
<line x1="226.5" y1="408.25" x2="561.5" y2="408.25" stroke="#EFEFEF" stroke-width="0.9"/>
<line x1="226.5" y1="421.25" x2="561.5" y2="421.25" stroke="#EFEFEF" stroke-width="0.9"/>
<line x1="226.5" y1="434.25" x2="561.5" y2="434.25" stroke="#EFEFEF" stroke-width="0.9"/>
<line x1="226.5" y1="447.25" x2="561.5" y2="447.25" stroke="#EFEFEF" stroke-width="0.9"/>
<line x1="226.5" y1="460.25" x2="561.5" y2="460.25" stroke="#EFEFEF" stroke-width="0.9"/>
<line x1="226.5" y1="473.25" x2="561.5" y2="473.25" stroke="#EFEFEF" stroke-width="0.9"/>
<line x1="226.5" y1="486.25" x2="561.5" y2="486.25" stroke="#EFEFEF" stroke-width="0.9"/>
<line x1="226.5" y1="499.25" x2="561.5" y2="499.25" stroke="#EFEFEF" stroke-width="0.9"/>
<line x1="226.5" y1="512.25" x2="561.5" y2="512.25" stroke="#EFEFEF" stroke-width="0.9"/>
<line x1="226.5" y1="525.25" x2="561.5" y2="525.25" stroke="#EFEFEF" stroke-width="0.9"/>
<ellipse cx="546.7" cy="278.25" rx="5.62" ry="5.30" fill="#E3101C"/>
<ellipse cx="517.7" cy="291.25" rx="5.30" ry="5.00" fill="#E63C16"/>
<ellipse cx="505.9" cy="304.25" rx="5.14" ry="4.85" fill="#EC760D"/>
<ellipse cx="399.9" cy="317.25" rx="4.88" ry="4.60" fill="#65B531"/>
<ellipse cx="359.4" cy="330.25" rx="4.45" ry="4.20" fill="#65B531"/>
<ellipse cx="318.7" cy="343.25" rx="4.03" ry="3.80" fill="#83C227"/>
<ellipse cx="302.1" cy="356.25" rx="3.82" ry="3.60" fill="#6BB82F"/>
<ellipse cx="302.1" cy="369.25" rx="3.82" ry="3.60" fill="#BAC819"/>
<ellipse cx="302.1" cy="382.25" rx="3.82" ry="3.60" fill="#83C227"/>
<ellipse cx="302.1" cy="395.25" rx="3.82" ry="3.60" fill="#E4A410"/>
<ellipse cx="289.6" cy="408.25" rx="3.60" ry="3.40" fill="#6BB82F"/>
<ellipse cx="285.6" cy="421.25" rx="3.60" ry="3.40" fill="#8EC524"/>
<ellipse cx="273.3" cy="434.25" rx="3.39" ry="3.20" fill="#C6C616"/>
<ellipse cx="269.4" cy="447.25" rx="3.29" ry="3.10" fill="#64B431"/>
<ellipse cx="265.4" cy="460.25" rx="3.29" ry="3.10" fill="#76BD2B"/>
<ellipse cx="261.4" cy="473.25" rx="3.18" ry="3.00" fill="#6FBA2D"/>
<ellipse cx="257.4" cy="486.25" rx="3.18" ry="3.00" fill="#6FBA2D"/>
<ellipse cx="244.8" cy="499.25" rx="2.86" ry="2.70" fill="#61B232"/>
<ellipse cx="244.8" cy="512.25" rx="2.81" ry="2.65" fill="#61B232"/>
<ellipse cx="241.2" cy="525.25" rx="2.49" ry="2.35" fill="#64B431"/>
<rect x="226.5" y="270.5" width="335.00" height="262.00" fill="none" stroke="#484848" stroke-width="1.15"/>
<line x1="223.30" y1="278.25" x2="226.5" y2="278.25" stroke="#333" stroke-width="0.9"/>
<text transform="translate(221.80,280.85) scale(1.080,1)" font-size="7.5" text-anchor="end" fill="#111" stroke="#111" stroke-width="0.2">extracellular exosome</text>
<line x1="223.30" y1="291.25" x2="226.5" y2="291.25" stroke="#333" stroke-width="0.9"/>
<text transform="translate(221.80,293.85) scale(1.080,1)" font-size="7.5" text-anchor="end" fill="#111" stroke="#111" stroke-width="0.2">extracellular space</text>
<line x1="223.30" y1="304.25" x2="226.5" y2="304.25" stroke="#333" stroke-width="0.9"/>
<text transform="translate(221.80,306.85) scale(1.080,1)" font-size="7.5" text-anchor="end" fill="#111" stroke="#111" stroke-width="0.2">extracellular region</text>
<line x1="223.30" y1="317.25" x2="226.5" y2="317.25" stroke="#333" stroke-width="0.9"/>
<text transform="translate(221.80,319.85) scale(1.080,1)" font-size="7.5" text-anchor="end" fill="#111" stroke="#111" stroke-width="0.2">plasma membrane</text>
<line x1="223.30" y1="330.25" x2="226.5" y2="330.25" stroke="#333" stroke-width="0.9"/>
<text transform="translate(221.80,332.85) scale(1.080,1)" font-size="7.5" text-anchor="end" fill="#111" stroke="#111" stroke-width="0.2">membrane</text>
<line x1="223.30" y1="343.25" x2="226.5" y2="343.25" stroke="#333" stroke-width="0.9"/>
<text transform="translate(221.80,345.85) scale(1.080,1)" font-size="7.5" text-anchor="end" fill="#111" stroke="#111" stroke-width="0.2">endoplasmic reticulum</text>
<line x1="223.30" y1="356.25" x2="226.5" y2="356.25" stroke="#333" stroke-width="0.9"/>
<text transform="translate(221.80,358.85) scale(1.080,1)" font-size="7.5" text-anchor="end" fill="#111" stroke="#111" stroke-width="0.2">endoplasmic reticulum membrane</text>
<line x1="223.30" y1="369.25" x2="226.5" y2="369.25" stroke="#333" stroke-width="0.9"/>
<text transform="translate(221.80,371.85) scale(1.080,1)" font-size="7.5" text-anchor="end" fill="#111" stroke="#111" stroke-width="0.2">endoplasmic reticulum lumen</text>
<line x1="223.30" y1="382.25" x2="226.5" y2="382.25" stroke="#333" stroke-width="0.9"/>
<text transform="translate(221.80,384.85) scale(1.080,1)" font-size="7.5" text-anchor="end" fill="#111" stroke="#111" stroke-width="0.2">cell surface</text>
<line x1="223.30" y1="395.25" x2="226.5" y2="395.25" stroke="#333" stroke-width="0.9"/>
<text transform="translate(221.80,397.85) scale(1.080,1)" font-size="7.5" text-anchor="end" fill="#111" stroke="#111" stroke-width="0.2">blood microparticle</text>
<line x1="223.30" y1="408.25" x2="226.5" y2="408.25" stroke="#333" stroke-width="0.9"/>
<text transform="translate(221.80,410.85) scale(1.080,1)" font-size="7.5" text-anchor="end" fill="#111" stroke="#111" stroke-width="0.2">intracellular membrane- bounded organelle</text>
<line x1="223.30" y1="421.25" x2="226.5" y2="421.25" stroke="#333" stroke-width="0.9"/>
<text transform="translate(221.80,423.85) scale(1.080,1)" font-size="7.5" text-anchor="end" fill="#111" stroke="#111" stroke-width="0.2">lysosome</text>
<line x1="223.30" y1="434.25" x2="226.5" y2="434.25" stroke="#333" stroke-width="0.9"/>
<text transform="translate(221.80,436.85) scale(1.080,1)" font-size="7.5" text-anchor="end" fill="#111" stroke="#111" stroke-width="0.2">lysosomal lumen</text>
<line x1="223.30" y1="447.25" x2="226.5" y2="447.25" stroke="#333" stroke-width="0.9"/>
<text transform="translate(221.80,449.85) scale(1.080,1)" font-size="7.5" text-anchor="end" fill="#111" stroke="#111" stroke-width="0.2">integral component of plasma membrane</text>
<line x1="223.30" y1="460.25" x2="226.5" y2="460.25" stroke="#333" stroke-width="0.9"/>
<text transform="translate(221.80,462.85) scale(1.080,1)" font-size="7.5" text-anchor="end" fill="#111" stroke="#111" stroke-width="0.2">extracellular matrix</text>
<line x1="223.30" y1="473.25" x2="226.5" y2="473.25" stroke="#333" stroke-width="0.9"/>
<text transform="translate(221.80,475.85) scale(1.080,1)" font-size="7.5" text-anchor="end" fill="#111" stroke="#111" stroke-width="0.2">external side of plasma membrane</text>
<line x1="223.30" y1="486.25" x2="226.5" y2="486.25" stroke="#333" stroke-width="0.9"/>
<text transform="translate(221.80,488.85) scale(1.080,1)" font-size="7.5" text-anchor="end" fill="#111" stroke="#111" stroke-width="0.2">lysosomal membrane</text>
<line x1="223.30" y1="499.25" x2="226.5" y2="499.25" stroke="#333" stroke-width="0.9"/>
<text transform="translate(221.80,501.85) scale(1.080,1)" font-size="7.5" text-anchor="end" fill="#111" stroke="#111" stroke-width="0.2">perinuclear region of cytoplasm</text>
<line x1="223.30" y1="512.25" x2="226.5" y2="512.25" stroke="#333" stroke-width="0.9"/>
<text transform="translate(221.80,514.85) scale(1.080,1)" font-size="7.5" text-anchor="end" fill="#111" stroke="#111" stroke-width="0.2">focal adhesion</text>
<line x1="223.30" y1="525.25" x2="226.5" y2="525.25" stroke="#333" stroke-width="0.9"/>
<text transform="translate(221.80,527.85) scale(1.080,1)" font-size="7.5" text-anchor="end" fill="#111" stroke="#111" stroke-width="0.2">macromolecular complex</text>
<line x1="313.3" y1="532.5" x2="313.3" y2="535.30" stroke="#333" stroke-width="0.9"/>
<text transform="translate(313.10,541.65)" font-size="7.6" text-anchor="middle" fill="#1a1a1a" stroke="#1a1a1a" stroke-width="0.25">20</text>
<line x1="427.0" y1="532.5" x2="427.0" y2="535.30" stroke="#333" stroke-width="0.9"/>
<text transform="translate(426.80,541.65)" font-size="7.6" text-anchor="middle" fill="#1a1a1a" stroke="#1a1a1a" stroke-width="0.25">40</text>
<line x1="540.6" y1="532.5" x2="540.6" y2="535.30" stroke="#333" stroke-width="0.9"/>
<text transform="translate(540.40,541.65)" font-size="7.6" text-anchor="middle" fill="#1a1a1a" stroke="#1a1a1a" stroke-width="0.25">60</text>
</g>
<text transform="translate(576.00,333.60) scale(1.080,1)" font-size="7.5" fill="#111" stroke="#111" stroke-width="0.2">- log<tspan dy="1.5" font-size="5.3">10</tspan><tspan dy="-1.5">(pvalue)</tspan></text>
<rect x="575.4" y="339.5" width="13.9" height="61.10" fill="url(#gyr)"/>
<line x1="575.4" y1="347.5" x2="578.1999999999999" y2="347.5" stroke="#fff" stroke-width="0.7"/><line x1="586.5" y1="347.5" x2="589.3" y2="347.5" stroke="#fff" stroke-width="0.7"/>
<text transform="translate(593.00,349.90) scale(1.040,1)" font-size="6.6" fill="#111" stroke="#111" stroke-width="0.3">40</text>
<line x1="575.4" y1="361.4" x2="578.1999999999999" y2="361.4" stroke="#fff" stroke-width="0.7"/><line x1="586.5" y1="361.4" x2="589.3" y2="361.4" stroke="#fff" stroke-width="0.7"/>
<text transform="translate(593.00,363.80) scale(1.040,1)" font-size="6.6" fill="#111" stroke="#111" stroke-width="0.3">30</text>
<line x1="575.4" y1="375.3" x2="578.1999999999999" y2="375.3" stroke="#fff" stroke-width="0.7"/><line x1="586.5" y1="375.3" x2="589.3" y2="375.3" stroke="#fff" stroke-width="0.7"/>
<text transform="translate(593.00,377.70) scale(1.040,1)" font-size="6.6" fill="#111" stroke="#111" stroke-width="0.3">20</text>
<line x1="575.4" y1="389.2" x2="578.1999999999999" y2="389.2" stroke="#fff" stroke-width="0.7"/><line x1="586.5" y1="389.2" x2="589.3" y2="389.2" stroke="#fff" stroke-width="0.7"/>
<text transform="translate(593.00,391.60) scale(1.040,1)" font-size="6.6" fill="#111" stroke="#111" stroke-width="0.3">10</text>
<text transform="translate(576.00,423.00) scale(1.080,1)" font-size="7.4" fill="#111" stroke="#111" stroke-width="0.2">count</text>
<ellipse cx="582.7" cy="433.0" rx="3.3" ry="2.9" fill="#000"/>
<text transform="translate(594.00,435.40) scale(1.040,1)" font-size="6.6" fill="#111" stroke="#111" stroke-width="0.3">20</text>
<ellipse cx="582.7" cy="445.3" rx="4.2" ry="3.6" fill="#000"/>
<text transform="translate(594.00,447.70) scale(1.040,1)" font-size="6.6" fill="#111" stroke="#111" stroke-width="0.3">40</text>
<ellipse cx="582.7" cy="457.6" rx="4.9" ry="4.2" fill="#000"/>
<text transform="translate(594.00,460.00) scale(1.040,1)" font-size="6.6" fill="#111" stroke="#111" stroke-width="0.3">60</text>
<ellipse cx="582.7" cy="470.2" rx="5.5" ry="4.7" fill="#000"/>
<text transform="translate(594.00,472.60) scale(1.040,1)" font-size="6.6" fill="#111" stroke="#111" stroke-width="0.3">80</text>
<g>
<rect x="871.5" y="271.5" width="297.00" height="269.00" fill="#fff"/>
<line x1="912.3" y1="271.5" x2="912.3" y2="540.5" stroke="#F5F5F5" stroke-width="0.55"/>
<line x1="967.4" y1="271.5" x2="967.4" y2="540.5" stroke="#F5F5F5" stroke-width="0.55"/>
<line x1="1022.4" y1="271.5" x2="1022.4" y2="540.5" stroke="#F5F5F5" stroke-width="0.55"/>
<line x1="1077.5" y1="271.5" x2="1077.5" y2="540.5" stroke="#F5F5F5" stroke-width="0.55"/>
<line x1="1132.5" y1="271.5" x2="1132.5" y2="540.5" stroke="#F5F5F5" stroke-width="0.55"/>
<line x1="884.8" y1="271.5" x2="884.8" y2="540.5" stroke="#EFEFEF" stroke-width="0.9"/>
<line x1="939.8" y1="271.5" x2="939.8" y2="540.5" stroke="#EFEFEF" stroke-width="0.9"/>
<line x1="995.1" y1="271.5" x2="995.1" y2="540.5" stroke="#EFEFEF" stroke-width="0.9"/>
<line x1="1049.8" y1="271.5" x2="1049.8" y2="540.5" stroke="#EFEFEF" stroke-width="0.9"/>
<line x1="1105.2" y1="271.5" x2="1105.2" y2="540.5" stroke="#EFEFEF" stroke-width="0.9"/>
<line x1="1159.9" y1="271.5" x2="1159.9" y2="540.5" stroke="#EFEFEF" stroke-width="0.9"/>
<line x1="871.5" y1="279.30" x2="1168.5" y2="279.30" stroke="#EFEFEF" stroke-width="0.9"/>
<line x1="871.5" y1="292.68" x2="1168.5" y2="292.68" stroke="#EFEFEF" stroke-width="0.9"/>
<line x1="871.5" y1="306.07" x2="1168.5" y2="306.07" stroke="#EFEFEF" stroke-width="0.9"/>
<line x1="871.5" y1="319.45" x2="1168.5" y2="319.45" stroke="#EFEFEF" stroke-width="0.9"/>
<line x1="871.5" y1="332.84" x2="1168.5" y2="332.84" stroke="#EFEFEF" stroke-width="0.9"/>
<line x1="871.5" y1="346.22" x2="1168.5" y2="346.22" stroke="#EFEFEF" stroke-width="0.9"/>
<line x1="871.5" y1="359.60" x2="1168.5" y2="359.60" stroke="#EFEFEF" stroke-width="0.9"/>
<line x1="871.5" y1="372.99" x2="1168.5" y2="372.99" stroke="#EFEFEF" stroke-width="0.9"/>
<line x1="871.5" y1="386.37" x2="1168.5" y2="386.37" stroke="#EFEFEF" stroke-width="0.9"/>
<line x1="871.5" y1="399.76" x2="1168.5" y2="399.76" stroke="#EFEFEF" stroke-width="0.9"/>
<line x1="871.5" y1="413.14" x2="1168.5" y2="413.14" stroke="#EFEFEF" stroke-width="0.9"/>
<line x1="871.5" y1="426.52" x2="1168.5" y2="426.52" stroke="#EFEFEF" stroke-width="0.9"/>
<line x1="871.5" y1="439.91" x2="1168.5" y2="439.91" stroke="#EFEFEF" stroke-width="0.9"/>
<line x1="871.5" y1="453.29" x2="1168.5" y2="453.29" stroke="#EFEFEF" stroke-width="0.9"/>
<line x1="871.5" y1="466.68" x2="1168.5" y2="466.68" stroke="#EFEFEF" stroke-width="0.9"/>
<line x1="871.5" y1="480.06" x2="1168.5" y2="480.06" stroke="#EFEFEF" stroke-width="0.9"/>
<line x1="871.5" y1="493.44" x2="1168.5" y2="493.44" stroke="#EFEFEF" stroke-width="0.9"/>
<line x1="871.5" y1="506.83" x2="1168.5" y2="506.83" stroke="#EFEFEF" stroke-width="0.9"/>
<line x1="871.5" y1="520.21" x2="1168.5" y2="520.21" stroke="#EFEFEF" stroke-width="0.9"/>
<line x1="871.5" y1="533.60" x2="1168.5" y2="533.60" stroke="#EFEFEF" stroke-width="0.9"/>
<ellipse cx="1155.4" cy="279.30" rx="5.72" ry="5.40" fill="#E08A12"/>
<ellipse cx="997.1" cy="292.68" rx="4.45" ry="4.20" fill="#96C62A"/>
<ellipse cx="981.6" cy="306.07" rx="4.45" ry="4.20" fill="#78BE36"/>
<ellipse cx="933.4" cy="319.45" rx="3.82" ry="3.60" fill="#6FBA3C"/>
<ellipse cx="933.4" cy="332.84" rx="3.82" ry="3.60" fill="#B3C922"/>
<ellipse cx="933.4" cy="346.22" rx="3.82" ry="3.60" fill="#E2581A"/>
<ellipse cx="917.9" cy="359.60" rx="3.60" ry="3.40" fill="#E0501C"/>
<ellipse cx="917.9" cy="372.99" rx="3.60" ry="3.40" fill="#DC161A"/>
<ellipse cx="917.9" cy="386.37" rx="3.60" ry="3.40" fill="#8DC63A"/>
<ellipse cx="917.9" cy="399.76" rx="3.60" ry="3.40" fill="#6DB53C"/>
<ellipse cx="902.5" cy="413.14" rx="3.29" ry="3.10" fill="#9BC83A"/>
<ellipse cx="902.5" cy="426.52" rx="3.29" ry="3.10" fill="#E0561E"/>
<ellipse cx="902.5" cy="439.91" rx="3.29" ry="3.10" fill="#E07A22"/>
<ellipse cx="902.5" cy="453.29" rx="3.29" ry="3.10" fill="#E0521E"/>
<ellipse cx="902.5" cy="466.68" rx="3.29" ry="3.10" fill="#6DB644"/>
<ellipse cx="902.5" cy="480.06" rx="3.29" ry="3.10" fill="#93C540"/>
<ellipse cx="902.5" cy="493.44" rx="3.29" ry="3.10" fill="#DFA01E"/>
<ellipse cx="902.5" cy="506.83" rx="3.29" ry="3.10" fill="#C9C227"/>
<ellipse cx="884.8" cy="520.21" rx="2.60" ry="2.45" fill="#93C540"/>
<ellipse cx="884.8" cy="533.60" rx="2.60" ry="2.45" fill="#A2C838"/>
<rect x="871.5" y="271.5" width="297.00" height="269.00" fill="none" stroke="#484848" stroke-width="1.15"/>
<line x1="868.30" y1="279.30" x2="871.5" y2="279.30" stroke="#333" stroke-width="0.9"/>
<text transform="translate(867.00,281.90) scale(1.080,1)" font-size="7.5" text-anchor="end" fill="#111" stroke="#111" stroke-width="0.2">cell adhesion</text>
<line x1="868.30" y1="292.68" x2="871.5" y2="292.68" stroke="#333" stroke-width="0.9"/>
<text transform="translate(867.00,295.28) scale(1.080,1)" font-size="7.5" text-anchor="end" fill="#111" stroke="#111" stroke-width="0.2">proteolysis</text>
<line x1="868.30" y1="306.07" x2="871.5" y2="306.07" stroke="#333" stroke-width="0.9"/>
<text transform="translate(867.00,308.67) scale(1.080,1)" font-size="7.5" text-anchor="end" fill="#111" stroke="#111" stroke-width="0.2">innate immune response</text>
<line x1="868.30" y1="319.45" x2="871.5" y2="319.45" stroke="#333" stroke-width="0.9"/>
<text transform="translate(867.00,322.05) scale(1.080,1)" font-size="7.5" text-anchor="end" fill="#111" stroke="#111" stroke-width="0.2">immune response</text>
<line x1="868.30" y1="332.84" x2="871.5" y2="332.84" stroke="#333" stroke-width="0.9"/>
<text transform="translate(867.00,335.44) scale(1.080,1)" font-size="7.5" text-anchor="end" fill="#111" stroke="#111" stroke-width="0.2">complement activation, classical pathway</text>
<line x1="868.30" y1="346.22" x2="871.5" y2="346.22" stroke="#333" stroke-width="0.9"/>
<text transform="translate(867.00,348.82) scale(1.080,1)" font-size="7.5" text-anchor="end" fill="#111" stroke="#111" stroke-width="0.2">cellular glucuronidation</text>
<line x1="868.30" y1="359.60" x2="871.5" y2="359.60" stroke="#333" stroke-width="0.9"/>
<text transform="translate(867.00,362.20) scale(1.080,1)" font-size="7.5" text-anchor="end" fill="#111" stroke="#111" stroke-width="0.2">xenobiotic glucuronidation</text>
<line x1="868.30" y1="372.99" x2="871.5" y2="372.99" stroke="#333" stroke-width="0.9"/>
<text transform="translate(867.00,375.59) scale(1.080,1)" font-size="7.5" text-anchor="end" fill="#111" stroke="#111" stroke-width="0.2">flavonoid glucuronidation</text>
<line x1="868.30" y1="386.37" x2="871.5" y2="386.37" stroke="#333" stroke-width="0.9"/>
<text transform="translate(867.00,388.97) scale(1.080,1)" font-size="7.5" text-anchor="end" fill="#111" stroke="#111" stroke-width="0.2">defense response to bacterium</text>
<line x1="868.30" y1="399.76" x2="871.5" y2="399.76" stroke="#333" stroke-width="0.9"/>
<text transform="translate(867.00,402.36) scale(1.080,1)" font-size="7.5" text-anchor="end" fill="#111" stroke="#111" stroke-width="0.2">adaptive immune response</text>
<line x1="868.30" y1="413.14" x2="871.5" y2="413.14" stroke="#333" stroke-width="0.9"/>
<text transform="translate(867.00,415.74) scale(1.080,1)" font-size="7.5" text-anchor="end" fill="#111" stroke="#111" stroke-width="0.2">xenobiotic metabolic process</text>
<line x1="868.30" y1="426.52" x2="871.5" y2="426.52" stroke="#333" stroke-width="0.9"/>
<text transform="translate(867.00,429.12) scale(1.080,1)" font-size="7.5" text-anchor="end" fill="#111" stroke="#111" stroke-width="0.2">negative regulation of glucuronosyltransferase activity</text>
<line x1="868.30" y1="439.91" x2="871.5" y2="439.91" stroke="#333" stroke-width="0.9"/>
<text transform="translate(867.00,442.51) scale(1.080,1)" font-size="7.5" text-anchor="end" fill="#111" stroke="#111" stroke-width="0.2">negative regulation of fatty acid metabolic process</text>
<line x1="868.30" y1="453.29" x2="871.5" y2="453.29" stroke="#333" stroke-width="0.9"/>
<text transform="translate(867.00,455.89) scale(1.080,1)" font-size="7.5" text-anchor="end" fill="#111" stroke="#111" stroke-width="0.2">negative regulation of cellular glucuronidation</text>
<line x1="868.30" y1="466.68" x2="871.5" y2="466.68" stroke="#333" stroke-width="0.9"/>
<text transform="translate(867.00,469.28) scale(1.080,1)" font-size="7.5" text-anchor="end" fill="#111" stroke="#111" stroke-width="0.2">negative regulation of apoptotic process</text>
<line x1="868.30" y1="480.06" x2="871.5" y2="480.06" stroke="#333" stroke-width="0.9"/>
<text transform="translate(867.00,482.66) scale(1.080,1)" font-size="7.5" text-anchor="end" fill="#111" stroke="#111" stroke-width="0.2">integrin- mediated signaling pathway</text>
<line x1="868.30" y1="493.44" x2="871.5" y2="493.44" stroke="#333" stroke-width="0.9"/>
<text transform="translate(867.00,496.04) scale(1.080,1)" font-size="7.5" text-anchor="end" fill="#111" stroke="#111" stroke-width="0.2">complement activation</text>
<line x1="868.30" y1="506.83" x2="871.5" y2="506.83" stroke="#333" stroke-width="0.9"/>
<text transform="translate(867.00,509.43) scale(1.080,1)" font-size="7.5" text-anchor="end" fill="#111" stroke="#111" stroke-width="0.2">acute- phase response</text>
<line x1="868.30" y1="520.21" x2="871.5" y2="520.21" stroke="#333" stroke-width="0.9"/>
<text transform="translate(867.00,522.81) scale(1.080,1)" font-size="7.5" text-anchor="end" fill="#111" stroke="#111" stroke-width="0.2">negative regulation of endopeptidase activity</text>
<line x1="868.30" y1="533.60" x2="871.5" y2="533.60" stroke="#333" stroke-width="0.9"/>
<text transform="translate(867.00,536.20) scale(1.080,1)" font-size="7.5" text-anchor="end" fill="#111" stroke="#111" stroke-width="0.2">cell- matrix adhesion</text>
<line x1="884.8" y1="540.5" x2="884.8" y2="543.30" stroke="#333" stroke-width="0.9"/>
<text transform="translate(884.60,550.45)" font-size="7.6" text-anchor="middle" fill="#1a1a1a" stroke="#1a1a1a" stroke-width="0.25">5.0</text>
<line x1="939.8" y1="540.5" x2="939.8" y2="543.30" stroke="#333" stroke-width="0.9"/>
<text transform="translate(939.60,550.45)" font-size="7.6" text-anchor="middle" fill="#1a1a1a" stroke="#1a1a1a" stroke-width="0.25">7.5</text>
<line x1="995.1" y1="540.5" x2="995.1" y2="543.30" stroke="#333" stroke-width="0.9"/>
<text transform="translate(994.90,550.45)" font-size="7.6" text-anchor="middle" fill="#1a1a1a" stroke="#1a1a1a" stroke-width="0.25">10.0</text>
<line x1="1049.8" y1="540.5" x2="1049.8" y2="543.30" stroke="#333" stroke-width="0.9"/>
<text transform="translate(1049.60,550.45)" font-size="7.6" text-anchor="middle" fill="#1a1a1a" stroke="#1a1a1a" stroke-width="0.25">12.5</text>
<line x1="1105.2" y1="540.5" x2="1105.2" y2="543.30" stroke="#333" stroke-width="0.9"/>
<text transform="translate(1105.00,550.45)" font-size="7.6" text-anchor="middle" fill="#1a1a1a" stroke="#1a1a1a" stroke-width="0.25">15.0</text>
<line x1="1159.9" y1="540.5" x2="1159.9" y2="543.30" stroke="#333" stroke-width="0.9"/>
<text transform="translate(1159.70,550.45)" font-size="7.6" text-anchor="middle" fill="#1a1a1a" stroke="#1a1a1a" stroke-width="0.25">17.5</text>
</g>
<text transform="translate(1182.70,342.20) scale(1.080,1)" font-size="7.4" fill="#111" stroke="#111" stroke-width="0.2">count</text>
<ellipse cx="1189.3" cy="353.2" rx="3.7" ry="3.0" fill="#000"/>
<text transform="translate(1200.70,355.60) scale(1.040,1)" font-size="6.6" fill="#111" stroke="#111" stroke-width="0.3">10</text>
<ellipse cx="1189.3" cy="366.0" rx="4.7" ry="4.0" fill="#000"/>
<text transform="translate(1200.70,368.40) scale(1.040,1)" font-size="6.6" fill="#111" stroke="#111" stroke-width="0.3">15</text>
<ellipse cx="1189.3" cy="378.4" rx="5.5" ry="4.65" fill="#000"/>
<text transform="translate(1200.70,380.80) scale(1.040,1)" font-size="6.6" fill="#111" stroke="#111" stroke-width="0.3">20</text>
<text transform="translate(1182.40,407.20) scale(1.080,1)" font-size="7.5" fill="#111" stroke="#111" stroke-width="0.2">- log<tspan dy="1.5" font-size="5.3">10</tspan><tspan dy="-1.5">(pvalue)</tspan></text>
<rect x="1182.4" y="412.9" width="13.8" height="63.40" fill="url(#gyr)"/>
<line x1="1182.4" y1="414.8" x2="1185.2" y2="414.8" stroke="#fff" stroke-width="0.7"/><line x1="1193.4" y1="414.8" x2="1196.2" y2="414.8" stroke="#fff" stroke-width="0.7"/>
<text transform="translate(1200.00,417.20) scale(1.040,1)" font-size="6.6" fill="#111" stroke="#111" stroke-width="0.3">16</text>
<line x1="1182.4" y1="431.5" x2="1185.2" y2="431.5" stroke="#fff" stroke-width="0.7"/><line x1="1193.4" y1="431.5" x2="1196.2" y2="431.5" stroke="#fff" stroke-width="0.7"/>
<text transform="translate(1200.00,433.90) scale(1.040,1)" font-size="6.6" fill="#111" stroke="#111" stroke-width="0.3">12</text>
<line x1="1182.4" y1="448.4" x2="1185.2" y2="448.4" stroke="#fff" stroke-width="0.7"/><line x1="1193.4" y1="448.4" x2="1196.2" y2="448.4" stroke="#fff" stroke-width="0.7"/>
<text transform="translate(1200.00,450.80) scale(1.040,1)" font-size="6.6" fill="#111" stroke="#111" stroke-width="0.3">8</text>
<line x1="1182.4" y1="464.7" x2="1185.2" y2="464.7" stroke="#fff" stroke-width="0.7"/><line x1="1193.4" y1="464.7" x2="1196.2" y2="464.7" stroke="#fff" stroke-width="0.7"/>
<text transform="translate(1200.00,467.10) scale(1.040,1)" font-size="6.6" fill="#111" stroke="#111" stroke-width="0.3">4</text>
<g>
<rect x="342.5" y="580.5" width="219.00" height="273.00" fill="#fff"/>
<line x1="368.5" y1="580.5" x2="368.5" y2="853.5" stroke="#F5F5F5" stroke-width="0.55"/>
<line x1="414.6" y1="580.5" x2="414.6" y2="853.5" stroke="#F5F5F5" stroke-width="0.55"/>
<line x1="460.4" y1="580.5" x2="460.4" y2="853.5" stroke="#F5F5F5" stroke-width="0.55"/>
<line x1="506.5" y1="580.5" x2="506.5" y2="853.5" stroke="#F5F5F5" stroke-width="0.55"/>
<line x1="552.8" y1="580.5" x2="552.8" y2="853.5" stroke="#F5F5F5" stroke-width="0.55"/>
<line x1="345.6" y1="580.5" x2="345.6" y2="853.5" stroke="#EFEFEF" stroke-width="0.9"/>
<line x1="391.4" y1="580.5" x2="391.4" y2="853.5" stroke="#EFEFEF" stroke-width="0.9"/>
<line x1="437.5" y1="580.5" x2="437.5" y2="853.5" stroke="#EFEFEF" stroke-width="0.9"/>
<line x1="483.6" y1="580.5" x2="483.6" y2="853.5" stroke="#EFEFEF" stroke-width="0.9"/>
<line x1="529.6" y1="580.5" x2="529.6" y2="853.5" stroke="#EFEFEF" stroke-width="0.9"/>
<line x1="342.5" y1="588.20" x2="561.5" y2="588.20" stroke="#EFEFEF" stroke-width="0.9"/>
<line x1="342.5" y1="601.75" x2="561.5" y2="601.75" stroke="#EFEFEF" stroke-width="0.9"/>
<line x1="342.5" y1="615.29" x2="561.5" y2="615.29" stroke="#EFEFEF" stroke-width="0.9"/>
<line x1="342.5" y1="628.84" x2="561.5" y2="628.84" stroke="#EFEFEF" stroke-width="0.9"/>
<line x1="342.5" y1="642.39" x2="561.5" y2="642.39" stroke="#EFEFEF" stroke-width="0.9"/>
<line x1="342.5" y1="655.94" x2="561.5" y2="655.94" stroke="#EFEFEF" stroke-width="0.9"/>
<line x1="342.5" y1="669.48" x2="561.5" y2="669.48" stroke="#EFEFEF" stroke-width="0.9"/>
<line x1="342.5" y1="683.03" x2="561.5" y2="683.03" stroke="#EFEFEF" stroke-width="0.9"/>
<line x1="342.5" y1="696.58" x2="561.5" y2="696.58" stroke="#EFEFEF" stroke-width="0.9"/>
<line x1="342.5" y1="710.12" x2="561.5" y2="710.12" stroke="#EFEFEF" stroke-width="0.9"/>
<line x1="342.5" y1="723.67" x2="561.5" y2="723.67" stroke="#EFEFEF" stroke-width="0.9"/>
<line x1="342.5" y1="737.22" x2="561.5" y2="737.22" stroke="#EFEFEF" stroke-width="0.9"/>
<line x1="342.5" y1="750.76" x2="561.5" y2="750.76" stroke="#EFEFEF" stroke-width="0.9"/>
<line x1="342.5" y1="764.31" x2="561.5" y2="764.31" stroke="#EFEFEF" stroke-width="0.9"/>
<line x1="342.5" y1="777.86" x2="561.5" y2="777.86" stroke="#EFEFEF" stroke-width="0.9"/>
<line x1="342.5" y1="791.41" x2="561.5" y2="791.41" stroke="#EFEFEF" stroke-width="0.9"/>
<line x1="342.5" y1="804.95" x2="561.5" y2="804.95" stroke="#EFEFEF" stroke-width="0.9"/>
<line x1="342.5" y1="818.50" x2="561.5" y2="818.50" stroke="#EFEFEF" stroke-width="0.9"/>
<line x1="342.5" y1="832.05" x2="561.5" y2="832.05" stroke="#EFEFEF" stroke-width="0.9"/>
<line x1="342.5" y1="845.59" x2="561.5" y2="845.59" stroke="#EFEFEF" stroke-width="0.9"/>
<ellipse cx="552.0" cy="588.20" rx="5.51" ry="5.20" fill="#5DB135"/>
<ellipse cx="537.4" cy="601.75" rx="5.30" ry="5.00" fill="#AACC1F"/>
<ellipse cx="511.4" cy="615.29" rx="5.19" ry="4.90" fill="#E21A1C"/>
<ellipse cx="472.6" cy="628.84" rx="4.77" ry="4.50" fill="#A0CB24"/>
<ellipse cx="457.8" cy="642.39" rx="4.66" ry="4.40" fill="#8FC62E"/>
<ellipse cx="457.8" cy="655.94" rx="4.66" ry="4.40" fill="#D4A917"/>
<ellipse cx="444.8" cy="669.48" rx="4.45" ry="4.20" fill="#7DC13A"/>
<ellipse cx="444.8" cy="683.03" rx="4.45" ry="4.20" fill="#5DB135"/>
<ellipse cx="432.0" cy="696.58" rx="4.24" ry="4.00" fill="#AFCB22"/>
<ellipse cx="432.0" cy="710.12" rx="4.24" ry="4.00" fill="#E5401C"/>
<ellipse cx="432.0" cy="723.67" rx="4.24" ry="4.00" fill="#E28F1C"/>
<ellipse cx="419.0" cy="737.22" rx="4.13" ry="3.90" fill="#E2701A"/>
<ellipse cx="406.0" cy="750.76" rx="3.92" ry="3.70" fill="#8CC52E"/>
<ellipse cx="391.4" cy="764.31" rx="3.71" ry="3.50" fill="#86C433"/>
<ellipse cx="391.4" cy="777.86" rx="3.71" ry="3.50" fill="#7DC13A"/>
<ellipse cx="378.4" cy="791.41" rx="3.60" ry="3.40" fill="#D3AD1C"/>
<ellipse cx="378.4" cy="804.95" rx="3.60" ry="3.40" fill="#8CC52E"/>
<ellipse cx="378.4" cy="818.50" rx="3.60" ry="3.40" fill="#5DB135"/>
<ellipse cx="365.4" cy="832.05" rx="3.18" ry="3.00" fill="#9AC92B"/>
<ellipse cx="352.6" cy="845.59" rx="2.54" ry="2.40" fill="#9CC22C"/>
<rect x="342.5" y="580.5" width="219.00" height="273.00" fill="none" stroke="#484848" stroke-width="1.15"/>
<line x1="339.30" y1="588.20" x2="342.5" y2="588.20" stroke="#333" stroke-width="0.9"/>
<text transform="translate(338.60,590.80) scale(1.080,1)" font-size="7.5" text-anchor="end" fill="#111" stroke="#111" stroke-width="0.2">identical protein binding</text>
<line x1="339.30" y1="601.75" x2="342.5" y2="601.75" stroke="#333" stroke-width="0.9"/>
<text transform="translate(338.60,604.35) scale(1.080,1)" font-size="7.5" text-anchor="end" fill="#111" stroke="#111" stroke-width="0.2">protein homodimerization activity</text>
<line x1="339.30" y1="615.29" x2="342.5" y2="615.29" stroke="#333" stroke-width="0.9"/>
<text transform="translate(338.60,617.89) scale(1.080,1)" font-size="7.5" text-anchor="end" fill="#111" stroke="#111" stroke-width="0.2">extracellular matrix structural constituent</text>
<line x1="339.30" y1="628.84" x2="342.5" y2="628.84" stroke="#333" stroke-width="0.9"/>
<text transform="translate(338.60,631.44) scale(1.080,1)" font-size="7.5" text-anchor="end" fill="#111" stroke="#111" stroke-width="0.2">enzyme binding</text>
<line x1="339.30" y1="642.39" x2="342.5" y2="642.39" stroke="#333" stroke-width="0.9"/>
<text transform="translate(338.60,644.99) scale(1.080,1)" font-size="7.5" text-anchor="end" fill="#111" stroke="#111" stroke-width="0.2">protein heterodimerization activity</text>
<line x1="339.30" y1="655.94" x2="342.5" y2="655.94" stroke="#333" stroke-width="0.9"/>
<text transform="translate(338.60,658.54) scale(1.080,1)" font-size="7.5" text-anchor="end" fill="#111" stroke="#111" stroke-width="0.2">heparin binding</text>
<line x1="339.30" y1="669.48" x2="342.5" y2="669.48" stroke="#333" stroke-width="0.9"/>
<text transform="translate(338.60,672.08) scale(1.080,1)" font-size="7.5" text-anchor="end" fill="#111" stroke="#111" stroke-width="0.2">receptor binding</text>
<line x1="339.30" y1="683.03" x2="342.5" y2="683.03" stroke="#333" stroke-width="0.9"/>
<text transform="translate(338.60,685.63) scale(1.080,1)" font-size="7.5" text-anchor="end" fill="#111" stroke="#111" stroke-width="0.2">calcium ion binding</text>
<line x1="339.30" y1="696.58" x2="342.5" y2="696.58" stroke="#333" stroke-width="0.9"/>
<text transform="translate(338.60,699.18) scale(1.080,1)" font-size="7.5" text-anchor="end" fill="#111" stroke="#111" stroke-width="0.2">integrin binding</text>
<line x1="339.30" y1="710.12" x2="342.5" y2="710.12" stroke="#333" stroke-width="0.9"/>
<text transform="translate(338.60,712.72) scale(1.080,1)" font-size="7.5" text-anchor="end" fill="#111" stroke="#111" stroke-width="0.2">glucuronosyltransferase activity</text>
<line x1="339.30" y1="723.67" x2="342.5" y2="723.67" stroke="#333" stroke-width="0.9"/>
<text transform="translate(338.60,726.27) scale(1.080,1)" font-size="7.5" text-anchor="end" fill="#111" stroke="#111" stroke-width="0.2">collagen binding</text>
<line x1="339.30" y1="737.22" x2="342.5" y2="737.22" stroke="#333" stroke-width="0.9"/>
<text transform="translate(338.60,739.82) scale(1.080,1)" font-size="7.5" text-anchor="end" fill="#111" stroke="#111" stroke-width="0.2">UDP- glycosyltransferase activity</text>
<line x1="339.30" y1="750.76" x2="342.5" y2="750.76" stroke="#333" stroke-width="0.9"/>
<text transform="translate(338.60,753.36) scale(1.080,1)" font-size="7.5" text-anchor="end" fill="#111" stroke="#111" stroke-width="0.2">antigen binding</text>
<line x1="339.30" y1="764.31" x2="342.5" y2="764.31" stroke="#333" stroke-width="0.9"/>
<text transform="translate(338.60,766.91) scale(1.080,1)" font-size="7.5" text-anchor="end" fill="#111" stroke="#111" stroke-width="0.2">immunoglobulin receptor binding</text>
<line x1="339.30" y1="777.86" x2="342.5" y2="777.86" stroke="#333" stroke-width="0.9"/>
<text transform="translate(338.60,780.46) scale(1.080,1)" font-size="7.5" text-anchor="end" fill="#111" stroke="#111" stroke-width="0.2">chaperone binding</text>
<line x1="339.30" y1="791.41" x2="342.5" y2="791.41" stroke="#333" stroke-width="0.9"/>
<text transform="translate(338.60,794.01) scale(1.080,1)" font-size="7.5" text-anchor="end" fill="#111" stroke="#111" stroke-width="0.2">extracellular matrix structural constituent conferring compression resistance</text>
<line x1="339.30" y1="804.95" x2="342.5" y2="804.95" stroke="#333" stroke-width="0.9"/>
<text transform="translate(338.60,807.55) scale(1.080,1)" font-size="7.5" text-anchor="end" fill="#111" stroke="#111" stroke-width="0.2">endopeptidase inhibitor activity</text>
<line x1="339.30" y1="818.50" x2="342.5" y2="818.50" stroke="#333" stroke-width="0.9"/>
<text transform="translate(338.60,821.10) scale(1.080,1)" font-size="7.5" text-anchor="end" fill="#111" stroke="#111" stroke-width="0.2">carbohydrate binding</text>
<line x1="339.30" y1="832.05" x2="342.5" y2="832.05" stroke="#333" stroke-width="0.9"/>
<text transform="translate(338.60,834.65) scale(1.080,1)" font-size="7.5" text-anchor="end" fill="#111" stroke="#111" stroke-width="0.2">retinoic acid binding</text>
<line x1="339.30" y1="845.59" x2="342.5" y2="845.59" stroke="#333" stroke-width="0.9"/>
<text transform="translate(338.60,848.19) scale(1.080,1)" font-size="7.5" text-anchor="end" fill="#111" stroke="#111" stroke-width="0.2">arylesterase activity</text>
<line x1="345.6" y1="853.5" x2="345.6" y2="856.30" stroke="#333" stroke-width="0.9"/>
<text transform="translate(345.40,862.85)" font-size="7.6" text-anchor="middle" fill="#1a1a1a" stroke="#1a1a1a" stroke-width="0.25">2.5</text>
<line x1="391.4" y1="853.5" x2="391.4" y2="856.30" stroke="#333" stroke-width="0.9"/>
<text transform="translate(391.20,862.85)" font-size="7.6" text-anchor="middle" fill="#1a1a1a" stroke="#1a1a1a" stroke-width="0.25">5.0</text>
<line x1="437.5" y1="853.5" x2="437.5" y2="856.30" stroke="#333" stroke-width="0.9"/>
<text transform="translate(437.30,862.85)" font-size="7.6" text-anchor="middle" fill="#1a1a1a" stroke="#1a1a1a" stroke-width="0.25">7.5</text>
<line x1="483.6" y1="853.5" x2="483.6" y2="856.30" stroke="#333" stroke-width="0.9"/>
<text transform="translate(483.40,862.85)" font-size="7.6" text-anchor="middle" fill="#1a1a1a" stroke="#1a1a1a" stroke-width="0.25">10.0</text>
<line x1="529.6" y1="853.5" x2="529.6" y2="856.30" stroke="#333" stroke-width="0.9"/>
<text transform="translate(529.40,862.85)" font-size="7.6" text-anchor="middle" fill="#1a1a1a" stroke="#1a1a1a" stroke-width="0.25">12.5</text>
</g>
<text transform="translate(575.60,645.60) scale(1.080,1)" font-size="7.4" fill="#111" stroke="#111" stroke-width="0.2">count</text>
<ellipse cx="582.4" cy="656.6" rx="2.3" ry="2.2" fill="#000"/>
<text transform="translate(593.80,659.00) scale(1.040,1)" font-size="6.6" fill="#111" stroke="#111" stroke-width="0.3">4</text>
<ellipse cx="582.4" cy="669.4" rx="4.2" ry="3.7" fill="#000"/>
<text transform="translate(593.80,671.80) scale(1.040,1)" font-size="6.6" fill="#111" stroke="#111" stroke-width="0.3">8</text>
<ellipse cx="582.4" cy="682.4" rx="4.85" ry="4.3" fill="#000"/>
<text transform="translate(593.80,684.80) scale(1.040,1)" font-size="6.6" fill="#111" stroke="#111" stroke-width="0.3">12</text>
<ellipse cx="582.4" cy="695.1" rx="5.55" ry="5.0" fill="#000"/>
<text transform="translate(593.80,697.50) scale(1.040,1)" font-size="6.6" fill="#111" stroke="#111" stroke-width="0.3">16</text>
<text transform="translate(575.40,724.00) scale(1.080,1)" font-size="7.5" fill="#111" stroke="#111" stroke-width="0.2">- log<tspan dy="1.5" font-size="5.3">10</tspan><tspan dy="-1.5">(pvalue)</tspan></text>
<rect x="575.4" y="730.0" width="14.1" height="64.60" fill="url(#gyr)"/>
<line x1="575.4" y1="734.5" x2="578.1999999999999" y2="734.5" stroke="#fff" stroke-width="0.7"/><line x1="586.7" y1="734.5" x2="589.5" y2="734.5" stroke="#fff" stroke-width="0.7"/>
<text transform="translate(594.00,736.90) scale(1.040,1)" font-size="6.6" fill="#111" stroke="#111" stroke-width="0.3">12.5</text>
<line x1="575.4" y1="747.7" x2="578.1999999999999" y2="747.7" stroke="#fff" stroke-width="0.7"/><line x1="586.7" y1="747.7" x2="589.5" y2="747.7" stroke="#fff" stroke-width="0.7"/>
<text transform="translate(594.00,750.10) scale(1.040,1)" font-size="6.6" fill="#111" stroke="#111" stroke-width="0.3">10.0</text>
<line x1="575.4" y1="761.0" x2="578.1999999999999" y2="761.0" stroke="#fff" stroke-width="0.7"/><line x1="586.7" y1="761.0" x2="589.5" y2="761.0" stroke="#fff" stroke-width="0.7"/>
<text transform="translate(594.00,763.40) scale(1.040,1)" font-size="6.6" fill="#111" stroke="#111" stroke-width="0.3">7.5</text>
<line x1="575.4" y1="774.3" x2="578.1999999999999" y2="774.3" stroke="#fff" stroke-width="0.7"/><line x1="586.7" y1="774.3" x2="589.5" y2="774.3" stroke="#fff" stroke-width="0.7"/>
<text transform="translate(594.00,776.70) scale(1.040,1)" font-size="6.6" fill="#111" stroke="#111" stroke-width="0.3">5.0</text>
<line x1="575.4" y1="787.6" x2="578.1999999999999" y2="787.6" stroke="#fff" stroke-width="0.7"/><line x1="586.7" y1="787.6" x2="589.5" y2="787.6" stroke="#fff" stroke-width="0.7"/>
<text transform="translate(594.00,790.00) scale(1.040,1)" font-size="6.6" fill="#111" stroke="#111" stroke-width="0.3">2.5</text>
<g>
<rect x="848.5" y="580.5" width="321.00" height="274.00" fill="#fff"/>
<line x1="891.3" y1="580.5" x2="891.3" y2="854.5" stroke="#F5F5F5" stroke-width="0.55"/>
<line x1="948.4" y1="580.5" x2="948.4" y2="854.5" stroke="#F5F5F5" stroke-width="0.55"/>
<line x1="1005.7" y1="580.5" x2="1005.7" y2="854.5" stroke="#F5F5F5" stroke-width="0.55"/>
<line x1="1062.8" y1="580.5" x2="1062.8" y2="854.5" stroke="#F5F5F5" stroke-width="0.55"/>
<line x1="1120.2" y1="580.5" x2="1120.2" y2="854.5" stroke="#F5F5F5" stroke-width="0.55"/>
<line x1="862.6" y1="580.5" x2="862.6" y2="854.5" stroke="#EFEFEF" stroke-width="0.9"/>
<line x1="920.0" y1="580.5" x2="920.0" y2="854.5" stroke="#EFEFEF" stroke-width="0.9"/>
<line x1="977.0" y1="580.5" x2="977.0" y2="854.5" stroke="#EFEFEF" stroke-width="0.9"/>
<line x1="1034.1" y1="580.5" x2="1034.1" y2="854.5" stroke="#EFEFEF" stroke-width="0.9"/>
<line x1="1091.5" y1="580.5" x2="1091.5" y2="854.5" stroke="#EFEFEF" stroke-width="0.9"/>
<line x1="1148.5" y1="580.5" x2="1148.5" y2="854.5" stroke="#EFEFEF" stroke-width="0.9"/>
<line x1="848.5" y1="588.40" x2="1169.5" y2="588.40" stroke="#EFEFEF" stroke-width="0.9"/>
<line x1="848.5" y1="601.98" x2="1169.5" y2="601.98" stroke="#EFEFEF" stroke-width="0.9"/>
<line x1="848.5" y1="615.56" x2="1169.5" y2="615.56" stroke="#EFEFEF" stroke-width="0.9"/>
<line x1="848.5" y1="629.14" x2="1169.5" y2="629.14" stroke="#EFEFEF" stroke-width="0.9"/>
<line x1="848.5" y1="642.72" x2="1169.5" y2="642.72" stroke="#EFEFEF" stroke-width="0.9"/>
<line x1="848.5" y1="656.30" x2="1169.5" y2="656.30" stroke="#EFEFEF" stroke-width="0.9"/>
<line x1="848.5" y1="669.88" x2="1169.5" y2="669.88" stroke="#EFEFEF" stroke-width="0.9"/>
<line x1="848.5" y1="683.46" x2="1169.5" y2="683.46" stroke="#EFEFEF" stroke-width="0.9"/>
<line x1="848.5" y1="697.04" x2="1169.5" y2="697.04" stroke="#EFEFEF" stroke-width="0.9"/>
<line x1="848.5" y1="710.62" x2="1169.5" y2="710.62" stroke="#EFEFEF" stroke-width="0.9"/>
<line x1="848.5" y1="724.20" x2="1169.5" y2="724.20" stroke="#EFEFEF" stroke-width="0.9"/>
<line x1="848.5" y1="737.78" x2="1169.5" y2="737.78" stroke="#EFEFEF" stroke-width="0.9"/>
<line x1="848.5" y1="751.36" x2="1169.5" y2="751.36" stroke="#EFEFEF" stroke-width="0.9"/>
<line x1="848.5" y1="764.94" x2="1169.5" y2="764.94" stroke="#EFEFEF" stroke-width="0.9"/>
<line x1="848.5" y1="778.52" x2="1169.5" y2="778.52" stroke="#EFEFEF" stroke-width="0.9"/>
<line x1="848.5" y1="792.10" x2="1169.5" y2="792.10" stroke="#EFEFEF" stroke-width="0.9"/>
<line x1="848.5" y1="805.68" x2="1169.5" y2="805.68" stroke="#EFEFEF" stroke-width="0.9"/>
<line x1="848.5" y1="819.26" x2="1169.5" y2="819.26" stroke="#EFEFEF" stroke-width="0.9"/>
<line x1="848.5" y1="832.84" x2="1169.5" y2="832.84" stroke="#EFEFEF" stroke-width="0.9"/>
<line x1="848.5" y1="846.42" x2="1169.5" y2="846.42" stroke="#EFEFEF" stroke-width="0.9"/>
<ellipse cx="1154.3" cy="588.40" rx="5.72" ry="5.40" fill="#E08A14"/>
<ellipse cx="1114.1" cy="601.98" rx="5.41" ry="5.10" fill="#E0701A"/>
<ellipse cx="1114.1" cy="615.56" rx="5.41" ry="5.10" fill="#E2641A"/>
<ellipse cx="1068.5" cy="629.14" rx="5.19" ry="4.90" fill="#E2231A"/>
<ellipse cx="1068.5" cy="642.72" rx="5.19" ry="4.90" fill="#7DC12F"/>
<ellipse cx="1068.5" cy="656.30" rx="5.19" ry="4.90" fill="#E08A14"/>
<ellipse cx="1068.5" cy="669.88" rx="5.19" ry="4.90" fill="#C4C11C"/>
<ellipse cx="1028.4" cy="683.46" rx="4.66" ry="4.40" fill="#E08A14"/>
<ellipse cx="1028.4" cy="697.04" rx="4.66" ry="4.40" fill="#E23B1C"/>
<ellipse cx="1028.4" cy="710.62" rx="4.66" ry="4.40" fill="#D9A01E"/>
<ellipse cx="1028.4" cy="724.20" rx="4.66" ry="4.40" fill="#6EBB30"/>
<ellipse cx="1028.4" cy="737.78" rx="4.66" ry="4.40" fill="#92C62B"/>
<ellipse cx="1028.4" cy="751.36" rx="4.66" ry="4.40" fill="#92C62B"/>
<ellipse cx="1028.4" cy="764.94" rx="4.66" ry="4.40" fill="#E08C14"/>
<ellipse cx="1028.4" cy="778.52" rx="4.66" ry="4.40" fill="#E21A1C"/>
<ellipse cx="988.2" cy="792.10" rx="4.56" ry="4.30" fill="#D3A518"/>
<ellipse cx="988.2" cy="805.68" rx="4.56" ry="4.30" fill="#D1AC18"/>
<ellipse cx="988.2" cy="819.26" rx="4.56" ry="4.30" fill="#C9BC1A"/>
<ellipse cx="862.6" cy="832.84" rx="2.44" ry="2.30" fill="#6DB832"/>
<ellipse cx="862.6" cy="846.42" rx="2.44" ry="2.30" fill="#6DB832"/>
<rect x="848.5" y="580.5" width="321.00" height="274.00" fill="none" stroke="#484848" stroke-width="1.15"/>
<line x1="845.30" y1="588.40" x2="848.5" y2="588.40" stroke="#333" stroke-width="0.9"/>
<text transform="translate(843.80,591.00) scale(1.080,1)" font-size="7.5" text-anchor="end" fill="#111" stroke="#111" stroke-width="0.2">Lysosome</text>
<line x1="845.30" y1="601.98" x2="848.5" y2="601.98" stroke="#333" stroke-width="0.9"/>
<text transform="translate(843.80,604.58) scale(1.080,1)" font-size="7.5" text-anchor="end" fill="#111" stroke="#111" stroke-width="0.2">ECM- receptor interaction</text>
<line x1="845.30" y1="615.56" x2="848.5" y2="615.56" stroke="#333" stroke-width="0.9"/>
<text transform="translate(843.80,618.16) scale(1.080,1)" font-size="7.5" text-anchor="end" fill="#111" stroke="#111" stroke-width="0.2">Drug metabolism -  other enzymes</text>
<line x1="845.30" y1="629.14" x2="848.5" y2="629.14" stroke="#333" stroke-width="0.9"/>
<text transform="translate(843.80,631.74) scale(1.080,1)" font-size="7.5" text-anchor="end" fill="#111" stroke="#111" stroke-width="0.2">Porphyrin metabolism</text>
<line x1="845.30" y1="642.72" x2="848.5" y2="642.72" stroke="#333" stroke-width="0.9"/>
<text transform="translate(843.80,645.32) scale(1.080,1)" font-size="7.5" text-anchor="end" fill="#111" stroke="#111" stroke-width="0.2">PI3K- Akt signaling pathway</text>
<line x1="845.30" y1="656.30" x2="848.5" y2="656.30" stroke="#333" stroke-width="0.9"/>
<text transform="translate(843.80,658.90) scale(1.080,1)" font-size="7.5" text-anchor="end" fill="#111" stroke="#111" stroke-width="0.2">Complement and coagulation cascades</text>
<line x1="845.30" y1="669.88" x2="848.5" y2="669.88" stroke="#333" stroke-width="0.9"/>
<text transform="translate(843.80,672.48) scale(1.080,1)" font-size="7.5" text-anchor="end" fill="#111" stroke="#111" stroke-width="0.2">Biosynthesis of cofactors</text>
<line x1="845.30" y1="683.46" x2="848.5" y2="683.46" stroke="#333" stroke-width="0.9"/>
<text transform="translate(843.80,686.06) scale(1.080,1)" font-size="7.5" text-anchor="end" fill="#111" stroke="#111" stroke-width="0.2">Steroid hormone biosynthesis</text>
<line x1="845.30" y1="697.04" x2="848.5" y2="697.04" stroke="#333" stroke-width="0.9"/>
<text transform="translate(843.80,699.64) scale(1.080,1)" font-size="7.5" text-anchor="end" fill="#111" stroke="#111" stroke-width="0.2">Pentose and glucuronate interconversions</text>
<line x1="845.30" y1="710.62" x2="848.5" y2="710.62" stroke="#333" stroke-width="0.9"/>
<text transform="translate(843.80,713.22) scale(1.080,1)" font-size="7.5" text-anchor="end" fill="#111" stroke="#111" stroke-width="0.2">Metabolism of xenobiotics by cytochrome P450</text>
<line x1="845.30" y1="724.20" x2="848.5" y2="724.20" stroke="#333" stroke-width="0.9"/>
<text transform="translate(843.80,726.80) scale(1.080,1)" font-size="7.5" text-anchor="end" fill="#111" stroke="#111" stroke-width="0.2">Human papillomavirus infection</text>
<line x1="845.30" y1="737.78" x2="848.5" y2="737.78" stroke="#333" stroke-width="0.9"/>
<text transform="translate(843.80,740.38) scale(1.080,1)" font-size="7.5" text-anchor="end" fill="#111" stroke="#111" stroke-width="0.2">Focal adhesion</text>
<line x1="845.30" y1="751.36" x2="848.5" y2="751.36" stroke="#333" stroke-width="0.9"/>
<text transform="translate(843.80,753.96) scale(1.080,1)" font-size="7.5" text-anchor="end" fill="#111" stroke="#111" stroke-width="0.2">Chemical carcinogenesis -  receptor activation</text>
<line x1="845.30" y1="764.94" x2="848.5" y2="764.94" stroke="#333" stroke-width="0.9"/>
<text transform="translate(843.80,767.54) scale(1.080,1)" font-size="7.5" text-anchor="end" fill="#111" stroke="#111" stroke-width="0.2">Chemical carcinogenesis -  DNA adducts</text>
<line x1="845.30" y1="778.52" x2="848.5" y2="778.52" stroke="#333" stroke-width="0.9"/>
<text transform="translate(843.80,781.12) scale(1.080,1)" font-size="7.5" text-anchor="end" fill="#111" stroke="#111" stroke-width="0.2">Ascorbate and aldarate metabolism</text>
<line x1="845.30" y1="792.10" x2="848.5" y2="792.10" stroke="#333" stroke-width="0.9"/>
<text transform="translate(843.80,794.70) scale(1.080,1)" font-size="7.5" text-anchor="end" fill="#111" stroke="#111" stroke-width="0.2">Retinol metabolism</text>
<line x1="845.30" y1="805.68" x2="848.5" y2="805.68" stroke="#333" stroke-width="0.9"/>
<text transform="translate(843.80,808.28) scale(1.080,1)" font-size="7.5" text-anchor="end" fill="#111" stroke="#111" stroke-width="0.2">Drug metabolism -  cytochrome P450</text>
<line x1="845.30" y1="819.26" x2="848.5" y2="819.26" stroke="#333" stroke-width="0.9"/>
<text transform="translate(843.80,821.86) scale(1.080,1)" font-size="7.5" text-anchor="end" fill="#111" stroke="#111" stroke-width="0.2">Bile secretion</text>
<line x1="845.30" y1="832.84" x2="848.5" y2="832.84" stroke="#333" stroke-width="0.9"/>
<text transform="translate(843.80,835.44) scale(1.080,1)" font-size="7.5" text-anchor="end" fill="#111" stroke="#111" stroke-width="0.2">Proteoglycans in cancer</text>
<line x1="845.30" y1="846.42" x2="848.5" y2="846.42" stroke="#333" stroke-width="0.9"/>
<text transform="translate(843.80,849.02) scale(1.080,1)" font-size="7.5" text-anchor="end" fill="#111" stroke="#111" stroke-width="0.2">Phagosome</text>
<line x1="862.6" y1="854.5" x2="862.6" y2="857.30" stroke="#333" stroke-width="0.9"/>
<text transform="translate(862.40,863.35)" font-size="7.6" text-anchor="middle" fill="#1a1a1a" stroke="#1a1a1a" stroke-width="0.25">5</text>
<line x1="920.0" y1="854.5" x2="920.0" y2="857.30" stroke="#333" stroke-width="0.9"/>
<text transform="translate(919.80,863.35)" font-size="7.6" text-anchor="middle" fill="#1a1a1a" stroke="#1a1a1a" stroke-width="0.25">6</text>
<line x1="977.0" y1="854.5" x2="977.0" y2="857.30" stroke="#333" stroke-width="0.9"/>
<text transform="translate(976.80,863.35)" font-size="7.6" text-anchor="middle" fill="#1a1a1a" stroke="#1a1a1a" stroke-width="0.25">7</text>
<line x1="1034.1" y1="854.5" x2="1034.1" y2="857.30" stroke="#333" stroke-width="0.9"/>
<text transform="translate(1033.90,863.35)" font-size="7.6" text-anchor="middle" fill="#1a1a1a" stroke="#1a1a1a" stroke-width="0.25">8</text>
<line x1="1091.5" y1="854.5" x2="1091.5" y2="857.30" stroke="#333" stroke-width="0.9"/>
<text transform="translate(1091.30,863.35)" font-size="7.6" text-anchor="middle" fill="#1a1a1a" stroke="#1a1a1a" stroke-width="0.25">9</text>
<line x1="1148.5" y1="854.5" x2="1148.5" y2="857.30" stroke="#333" stroke-width="0.9"/>
<text transform="translate(1148.30,863.35)" font-size="7.6" text-anchor="middle" fill="#1a1a1a" stroke="#1a1a1a" stroke-width="0.25">10</text>
</g>
<text transform="translate(1182.60,645.60) scale(1.080,1)" font-size="7.4" fill="#111" stroke="#111" stroke-width="0.2">count</text>
<ellipse cx="1189.2" cy="656.6" rx="3.75" ry="3.25" fill="#000"/>
<text transform="translate(1200.60,659.00) scale(1.040,1)" font-size="6.6" fill="#111" stroke="#111" stroke-width="0.3">8</text>
<ellipse cx="1189.2" cy="669.6" rx="4.45" ry="4.0" fill="#000"/>
<text transform="translate(1200.60,672.00) scale(1.040,1)" font-size="6.6" fill="#111" stroke="#111" stroke-width="0.3">10</text>
<ellipse cx="1189.2" cy="682.7" rx="5.0" ry="4.65" fill="#000"/>
<text transform="translate(1200.60,685.10) scale(1.040,1)" font-size="6.6" fill="#111" stroke="#111" stroke-width="0.3">12</text>
<ellipse cx="1189.2" cy="695.4" rx="5.6" ry="5.3" fill="#000"/>
<text transform="translate(1200.60,697.80) scale(1.040,1)" font-size="6.6" fill="#111" stroke="#111" stroke-width="0.3">14</text>
<text transform="translate(1182.00,725.20) scale(1.080,1)" font-size="7.5" fill="#111" stroke="#111" stroke-width="0.2">- log<tspan dy="1.5" font-size="5.3">10</tspan><tspan dy="-1.5">(pvalue)</tspan></text>
<rect x="1182.0" y="730.3" width="14.0" height="64.10" fill="url(#gyr)"/>
<line x1="1182.0" y1="733.0" x2="1184.8" y2="733.0" stroke="#fff" stroke-width="0.7"/><line x1="1193.2" y1="733.0" x2="1196.0" y2="733.0" stroke="#fff" stroke-width="0.7"/>
<text transform="translate(1200.00,735.40) scale(1.040,1)" font-size="6.6" fill="#111" stroke="#111" stroke-width="0.3">12.5</text>
<line x1="1182.0" y1="747.1" x2="1184.8" y2="747.1" stroke="#fff" stroke-width="0.7"/><line x1="1193.2" y1="747.1" x2="1196.0" y2="747.1" stroke="#fff" stroke-width="0.7"/>
<text transform="translate(1200.00,749.50) scale(1.040,1)" font-size="6.6" fill="#111" stroke="#111" stroke-width="0.3">10.0</text>
<line x1="1182.0" y1="761.6" x2="1184.8" y2="761.6" stroke="#fff" stroke-width="0.7"/><line x1="1193.2" y1="761.6" x2="1196.0" y2="761.6" stroke="#fff" stroke-width="0.7"/>
<text transform="translate(1200.00,764.00) scale(1.040,1)" font-size="6.6" fill="#111" stroke="#111" stroke-width="0.3">7.5</text>
<line x1="1182.0" y1="776.2" x2="1184.8" y2="776.2" stroke="#fff" stroke-width="0.7"/><line x1="1193.2" y1="776.2" x2="1196.0" y2="776.2" stroke="#fff" stroke-width="0.7"/>
<text transform="translate(1200.00,778.60) scale(1.040,1)" font-size="6.6" fill="#111" stroke="#111" stroke-width="0.3">5.0</text>
<line x1="1182.0" y1="790.7" x2="1184.8" y2="790.7" stroke="#fff" stroke-width="0.7"/><line x1="1193.2" y1="790.7" x2="1196.0" y2="790.7" stroke="#fff" stroke-width="0.7"/>
<text transform="translate(1200.00,793.10) scale(1.040,1)" font-size="6.6" fill="#111" stroke="#111" stroke-width="0.3">2.5</text>
<g id="volcano">
<line x1="138.0" y1="929.5" x2="138.0" y2="1104.1" stroke="#7d7d7d" stroke-width="1.3" stroke-dasharray="2.2,1.5"/>
<line x1="173.2" y1="929.5" x2="173.2" y2="1104.1" stroke="#7d7d7d" stroke-width="1.3" stroke-dasharray="2.2,1.5"/>
<line x1="56.6" y1="1027.4" x2="254.3" y2="1027.4" stroke="#222" stroke-width="0.8" stroke-dasharray="2.6,1.2"/>
<circle cx="151.5" cy="1032.8" r="2.5" fill="#C1C1C1" fill-opacity="0.85"/>
<circle cx="153.6" cy="1048.6" r="2.5" fill="#C1C1C1" fill-opacity="0.85"/>
<circle cx="139.9" cy="1052.6" r="2.5" fill="#C1C1C1" fill-opacity="0.85"/>
<circle cx="141.6" cy="1058.5" r="2.5" fill="#C1C1C1" fill-opacity="0.85"/>
<circle cx="145.8" cy="1058.5" r="2.5" fill="#C1C1C1" fill-opacity="0.85"/>
<circle cx="170.1" cy="1057.3" r="2.5" fill="#C1C1C1" fill-opacity="0.85"/>
<circle cx="154.6" cy="1061.3" r="2.5" fill="#C1C1C1" fill-opacity="0.85"/>
<circle cx="155.3" cy="1062.9" r="2.5" fill="#C1C1C1" fill-opacity="0.85"/>
<circle cx="168.5" cy="1063.4" r="2.5" fill="#C1C1C1" fill-opacity="0.85"/>
<circle cx="148.9" cy="1068.1" r="2.5" fill="#C1C1C1" fill-opacity="0.85"/>
<circle cx="150.6" cy="1068.1" r="2.5" fill="#C1C1C1" fill-opacity="0.85"/>
<circle cx="165.2" cy="1072.9" r="2.5" fill="#C1C1C1" fill-opacity="0.85"/>
<circle cx="152.7" cy="1075.2" r="2.5" fill="#C1C1C1" fill-opacity="0.85"/>
<circle cx="155.3" cy="1076.6" r="2.5" fill="#C1C1C1" fill-opacity="0.85"/>
<circle cx="172.1" cy="1074.3" r="2.5" fill="#C1C1C1" fill-opacity="0.85"/>
<circle cx="172.1" cy="1076.4" r="2.5" fill="#C1C1C1" fill-opacity="0.85"/>
<circle cx="141.4" cy="1076.6" r="2.5" fill="#C1C1C1" fill-opacity="0.85"/>
<circle cx="140.2" cy="1079.0" r="2.5" fill="#C1C1C1" fill-opacity="0.85"/>
<circle cx="139.3" cy="1081.6" r="2.5" fill="#C1C1C1" fill-opacity="0.85"/>
<circle cx="152.7" cy="1085.1" r="2.5" fill="#C1C1C1" fill-opacity="0.85"/>
<circle cx="167.1" cy="1085.4" r="2.5" fill="#C1C1C1" fill-opacity="0.85"/>
<circle cx="159.8" cy="1086.8" r="2.5" fill="#C1C1C1" fill-opacity="0.85"/>
<circle cx="146.3" cy="1088.0" r="2.5" fill="#C1C1C1" fill-opacity="0.85"/>
<circle cx="150.6" cy="1088.5" r="2.5" fill="#C1C1C1" fill-opacity="0.85"/>
<circle cx="149.8" cy="1090.3" r="2.5" fill="#C1C1C1" fill-opacity="0.85"/>
<circle cx="140.2" cy="1092.0" r="2.5" fill="#C1C1C1" fill-opacity="0.85"/>
<circle cx="142.0" cy="1094.6" r="2.5" fill="#C1C1C1" fill-opacity="0.85"/>
<circle cx="162.8" cy="1093.7" r="2.5" fill="#C1C1C1" fill-opacity="0.85"/>
<circle cx="169.7" cy="1093.7" r="2.5" fill="#C1C1C1" fill-opacity="0.85"/>
<circle cx="142.0" cy="1096.3" r="2.5" fill="#C1C1C1" fill-opacity="0.85"/>
<circle cx="146.3" cy="1096.3" r="2.5" fill="#C1C1C1" fill-opacity="0.85"/>
<circle cx="149.8" cy="1096.3" r="2.5" fill="#C1C1C1" fill-opacity="0.85"/>
<circle cx="154.1" cy="1096.3" r="2.5" fill="#C1C1C1" fill-opacity="0.85"/>
<circle cx="159.3" cy="1096.3" r="2.5" fill="#C1C1C1" fill-opacity="0.85"/>
<circle cx="163.6" cy="1096.3" r="2.5" fill="#C1C1C1" fill-opacity="0.85"/>
<circle cx="168.0" cy="1096.3" r="2.5" fill="#C1C1C1" fill-opacity="0.85"/>
<circle cx="171.4" cy="1096.3" r="2.5" fill="#C1C1C1" fill-opacity="0.85"/>
<circle cx="174.0" cy="1096.3" r="2.5" fill="#C1C1C1" fill-opacity="0.85"/>
<circle cx="110.4" cy="1033.2" r="2.65" fill="#BFE2B5"/>
<path d="M109.53,1032.14 L111.42,1033.19 L109.53,1034.24 Z" fill="#111"/>
<text transform="translate(108.87,1035.79)" font-size="2.2" text-anchor="end" fill="#666">N4H5S1</text>
<circle cx="114.2" cy="1036.7" r="2.65" fill="#BFE2B5"/>
<path d="M113.35,1035.61 L115.24,1036.66 L113.35,1037.71 Z" fill="#111"/>
<text transform="translate(115.69,1035.46)" font-size="2.2" fill="#666">N5H4F1</text>
<circle cx="101.4" cy="1046.5" r="2.65" fill="#BFE2B5"/>
<path d="M100.51,1045.49 L102.40,1046.54 L100.51,1047.59 Z" fill="#111"/>
<text transform="translate(99.85,1049.14)" font-size="2.2" text-anchor="end" fill="#666">N3H6S1</text>
<circle cx="102.0" cy="1067.4" r="2.65" fill="#BFE2B5"/>
<path d="M101.21,1066.31 L103.10,1067.36 L101.21,1068.41 Z" fill="#111"/>
<text transform="translate(100.55,1069.96)" font-size="2.2" text-anchor="end" fill="#666">N4H5F1</text>
<circle cx="105.2" cy="1072.6" r="2.65" fill="#BFE2B5"/>
<path d="M104.33,1071.52 L106.22,1072.57 L104.33,1073.62 Z" fill="#111"/>
<text transform="translate(103.67,1075.17)" font-size="2.2" text-anchor="end" fill="#666">N5H6S2</text>
<circle cx="90.2" cy="1075.5" r="2.65" fill="#BFE2B5"/>
<path d="M89.41,1074.47 L91.30,1075.52 L89.41,1076.57 Z" fill="#111"/>
<text transform="translate(88.75,1078.12)" font-size="2.2" text-anchor="end" fill="#666">N2H9</text>
<circle cx="103.1" cy="1088.0" r="2.65" fill="#BFE2B5"/>
<path d="M102.25,1086.96 L104.14,1088.01 L102.25,1089.06 Z" fill="#111"/>
<text transform="translate(104.59,1090.61)" font-size="2.2" fill="#666">N4H4S1</text>
<circle cx="81.4" cy="1096.3" r="2.65" fill="#BFE2B5"/>
<path d="M80.56,1095.29 L82.45,1096.34 L80.56,1097.39 Z" fill="#111"/>
<text transform="translate(79.90,1098.94)" font-size="2.2" text-anchor="end" fill="#666">N6H7S2</text>
<circle cx="121.5" cy="1073.8" r="2.65" fill="#BFE2B5"/>
<path d="M120.64,1072.73 L122.53,1073.78 L120.64,1074.83 Z" fill="#111"/>
<text transform="translate(119.98,1076.38)" font-size="2.2" text-anchor="end" fill="#666">N5H5F1</text>
<circle cx="128.4" cy="1071.7" r="2.65" fill="#BFE2B5"/>
<path d="M127.58,1070.65 L129.47,1071.70 L127.58,1072.75 Z" fill="#111"/>
<text transform="translate(129.92,1074.30)" font-size="2.2" fill="#666">N3H5</text>
<circle cx="131.5" cy="1079.3" r="2.65" fill="#BFE2B5"/>
<path d="M130.70,1078.28 L132.59,1079.33 L130.70,1080.38 Z" fill="#111"/>
<text transform="translate(130.04,1081.93)" font-size="2.2" text-anchor="end" fill="#666">N4H3F1</text>
<circle cx="132.8" cy="1084.5" r="2.65" fill="#BFE2B5"/>
<path d="M131.92,1083.49 L133.81,1084.54 L131.92,1085.59 Z" fill="#111"/>
<text transform="translate(134.26,1087.14)" font-size="2.2" fill="#666">N2H8</text>
<circle cx="125.8" cy="1089.7" r="2.65" fill="#BFE2B5"/>
<path d="M124.98,1088.69 L126.87,1089.74 L124.98,1090.79 Z" fill="#111"/>
<text transform="translate(124.32,1092.34)" font-size="2.2" text-anchor="end" fill="#666">N5H4S1</text>
<circle cx="130.7" cy="1089.7" r="2.65" fill="#BFE2B5"/>
<path d="M129.83,1088.69 L131.72,1089.74 L129.83,1090.79 Z" fill="#111"/>
<text transform="translate(132.17,1092.34)" font-size="2.2" fill="#666">N4H6</text>
<circle cx="124.3" cy="1095.1" r="2.65" fill="#BFE2B5"/>
<path d="M123.41,1094.07 L125.30,1095.12 L123.41,1096.17 Z" fill="#111"/>
<text transform="translate(122.75,1097.72)" font-size="2.2" text-anchor="end" fill="#666">N6H3F1</text>
<circle cx="133.3" cy="1096.3" r="2.65" fill="#BFE2B5"/>
<circle cx="220.9" cy="1062.9" r="2.65" fill="#BFE2B5"/>
<path d="M220.05,1061.80 L221.94,1062.85 L220.05,1063.90 Z" fill="#111"/>
<text transform="translate(219.39,1065.45)" font-size="2.2" text-anchor="end" fill="#666">N2H7</text>
<circle cx="176.3" cy="1072.9" r="2.65" fill="#BFE2B5"/>
<circle cx="181.0" cy="1079.5" r="2.65" fill="#BFE2B5"/>
<path d="M180.15,1078.46 L182.04,1079.51 L180.15,1080.56 Z" fill="#111"/>
<circle cx="181.0" cy="1090.8" r="2.65" fill="#BFE2B5"/>
<path d="M180.15,1089.73 L182.04,1090.78 L180.15,1091.83 Z" fill="#111"/>
<text transform="translate(182.49,1093.38)" font-size="2.2" fill="#666">N5H6F1S1</text>
<circle cx="178.4" cy="1093.7" r="2.65" fill="#BFE2B5"/>
<path d="M177.54,1092.68 L179.43,1093.73 L177.54,1094.78 Z" fill="#111"/>
<circle cx="185.0" cy="1094.9" r="2.65" fill="#BFE2B5"/>
<path d="M184.14,1093.90 L186.03,1094.95 L184.14,1096.00 Z" fill="#111"/>
<text transform="translate(186.48,1097.55)" font-size="2.2" fill="#666">N4H5S2</text>
<circle cx="177.5" cy="1095.5" r="2.65" fill="#BFE2B5"/>
<path d="M176.68,1094.42 L178.57,1095.47 L176.68,1096.52 Z" fill="#111"/>
<circle cx="160.3" cy="1003.3" r="2.35" fill="#C7CEE7"/>
<circle cx="228.3" cy="947.4" r="2.4" fill="#E99595"/>
<path d="M227.46,946.35 L229.35,947.40 L227.46,948.45 Z" fill="#111"/>
<circle cx="197.2" cy="953.8" r="2.4" fill="#E99595"/>
<path d="M196.36,952.75 L198.25,953.80 L196.36,954.85 Z" fill="#111"/>
<circle cx="207.2" cy="969.8" r="2.4" fill="#E99595"/>
<path d="M206.36,968.75 L208.25,969.80 L206.36,970.85 Z" fill="#111"/>
<circle cx="196.3" cy="979.0" r="2.4" fill="#E99595"/>
<path d="M195.46,977.95 L197.35,979.00 L195.46,980.05 Z" fill="#111"/>
<circle cx="131.2" cy="1016.2" r="2.4" fill="#E99595"/>
<path d="M130.36,1015.15 L132.25,1016.20 L130.36,1017.25 Z" fill="#111"/>
<circle cx="135.0" cy="1025.7" r="2.4" fill="#EFA9A9"/>
<circle cx="184.4" cy="1024.7" r="2.4" fill="#E99595"/>
<path d="M183.56,1023.65 L185.45,1024.70 L183.56,1025.75 Z" fill="#111"/>
<text transform="translate(226.50,950.60)" font-size="2.2" text-anchor="end" fill="#666">N2H7</text>
<text transform="translate(195.50,957.00)" font-size="2.2" text-anchor="end" fill="#666">N2H5</text>
<text transform="translate(205.50,972.80)" font-size="2.2" text-anchor="end" fill="#666">N2H6</text>
<text transform="translate(198.50,977.60)" font-size="2.2" fill="#666">N2H8</text>
<text transform="translate(129.50,1019.40)" font-size="2.2" text-anchor="end" fill="#666">N3H4</text>
<circle cx="93.6" cy="946.8" r="6.9" fill="#E98B8B"/>
<path d="M91.4,944.4 L94.6,946.6 L91.4,948.8 Z" fill="none" stroke="#fff" stroke-width="0.55"/>
<text transform="translate(84.90,955.70) scale(1.080,1)" font-size="3.6" text-anchor="middle" fill="#222" font-weight="bold">3N6H.0S0F0</text>
<ellipse cx="93.6" cy="947.8" rx="29.2" ry="26.4" fill="none" stroke="#B5372C" stroke-width="0.7" stroke-dasharray="4.4,3.2"/>
<ellipse cx="227.7" cy="947.9" rx="10.3" ry="9.8" fill="none" stroke="#B5372C" stroke-width="0.7" stroke-dasharray="3.6,2.6"/>
<line x1="104.5" y1="922.6" x2="229.0" y2="938.2" stroke="#B5372C" stroke-width="0.7" stroke-dasharray="4.4,3.2"/>
<line x1="102.0" y1="973.4" x2="229.0" y2="957.6" stroke="#B5372C" stroke-width="0.7" stroke-dasharray="4.4,3.2"/>
<path d="M56.5,929.2 V1104.5 H254.3" fill="none" stroke="#2a2a2a" stroke-width="1.1"/>
<line x1="53.2" y1="936.5" x2="56.6" y2="936.5" stroke="#2a2a2a" stroke-width="0.9"/>
<text transform="translate(50.80,939.70) scale(1.080,1)" font-size="9" text-anchor="end" fill="#333">3</text>
<line x1="53.2" y1="990.0" x2="56.6" y2="990.0" stroke="#2a2a2a" stroke-width="0.9"/>
<text transform="translate(50.80,993.20) scale(1.080,1)" font-size="9" text-anchor="end" fill="#333">2</text>
<line x1="53.2" y1="1043.4" x2="56.6" y2="1043.4" stroke="#2a2a2a" stroke-width="0.9"/>
<text transform="translate(50.80,1046.60) scale(1.080,1)" font-size="9" text-anchor="end" fill="#333">1</text>
<line x1="53.2" y1="1096.8" x2="56.6" y2="1096.8" stroke="#2a2a2a" stroke-width="0.9"/>
<text transform="translate(50.80,1100.00) scale(1.080,1)" font-size="9" text-anchor="end" fill="#333">0</text>
<line x1="95.2" y1="1104.5" x2="95.2" y2="1108.0" stroke="#2a2a2a" stroke-width="0.9"/>
<text transform="translate(95.20,1118.20) scale(1.080,1)" font-size="9" text-anchor="middle" fill="#333">-2</text>
<line x1="155.5" y1="1104.5" x2="155.5" y2="1108.0" stroke="#2a2a2a" stroke-width="0.9"/>
<text transform="translate(155.50,1118.20) scale(1.080,1)" font-size="9" text-anchor="middle" fill="#333">0</text>
<line x1="215.0" y1="1104.5" x2="215.0" y2="1108.0" stroke="#2a2a2a" stroke-width="0.9"/>
<text transform="translate(215.00,1118.20) scale(1.080,1)" font-size="9" text-anchor="middle" fill="#333">2</text>
<text transform="translate(155.30,1123.60) scale(1.080,1)" font-size="6.9" text-anchor="middle" fill="#111" stroke="#111" stroke-width="0.18">log<tspan dy="1.2" font-size="4">2</tspan><tspan dy="-1.2"> foldchange</tspan></text>
<text transform="translate(37.6,1015.4) rotate(-90) scale(1,1.08)" font-size="9.6" text-anchor="middle" fill="#111">−Log<tspan dy="1.8" font-size="5.6">10</tspan><tspan dy="-1.8"> pvalue</tspan></text>
<circle cx="67.8" cy="905.8" r="3.7" fill="#C1C1C1"/>
<text transform="translate(79.00,907.70) scale(1.080,1)" font-size="5.3" fill="#222" stroke="#222" stroke-width="0.2">Not Sig</text>
<circle cx="109.5" cy="905.8" r="3.7" fill="#BFE2B5"/>
<text transform="translate(120.30,907.70) scale(1.080,1)" font-size="5.3" fill="#222" stroke="#222" stroke-width="0.2">Log2FC</text>
<circle cx="152.0" cy="905.8" r="3.7" fill="#C7CEE7"/>
<text transform="translate(163.00,907.70) scale(1.080,1)" font-size="5.3" fill="#222" stroke="#222" stroke-width="0.2">Pvalue</text>
<circle cx="192.6" cy="905.8" r="3.7" fill="#E99595"/>
<text transform="translate(203.20,907.70) scale(1.080,1)" font-size="5.3" fill="#222" stroke="#222" stroke-width="0.2">Pvalue and Log2FC</text>
</g>
<g id="heat">
<rect x="290.2" y="923.1" width="369.90" height="177.00" fill="#2A1A48"/>
<rect x="369.46" y="923.10" width="26.42" height="25.29" fill="#1F5F62"/>
<rect x="395.89" y="923.10" width="26.42" height="25.29" fill="#1F5560"/>
<rect x="475.15" y="923.10" width="26.42" height="25.29" fill="#254458"/>
<rect x="527.99" y="923.10" width="26.42" height="25.29" fill="#24806E"/>
<rect x="395.89" y="973.67" width="26.42" height="25.29" fill="#253A58"/>
<rect x="448.73" y="973.67" width="26.42" height="25.29" fill="#21585F"/>
<rect x="475.15" y="973.67" width="26.42" height="25.29" fill="#254058"/>
<rect x="501.57" y="973.67" width="26.42" height="25.29" fill="#215A60"/>
<rect x="527.99" y="973.67" width="26.42" height="25.29" fill="#226F66"/>
<rect x="369.46" y="1024.24" width="26.42" height="25.29" fill="#215A60"/>
<rect x="395.89" y="1024.24" width="26.42" height="25.29" fill="#24405A"/>
<rect x="422.31" y="1024.24" width="26.42" height="25.29" fill="#283A58"/>
<rect x="448.73" y="1024.24" width="26.42" height="25.29" fill="#21605F"/>
<rect x="475.15" y="1024.24" width="26.42" height="25.29" fill="#24425A"/>
<rect x="527.99" y="1024.24" width="26.42" height="25.29" fill="#22605F"/>
<rect x="554.41" y="1024.24" width="26.42" height="25.29" fill="#259A70"/>
<path d="M290.20,923.1V1100.1M316.62,923.1V1100.1M343.04,923.1V1100.1M369.46,923.1V1100.1M395.89,923.1V1100.1M422.31,923.1V1100.1M448.73,923.1V1100.1M475.15,923.1V1100.1M501.57,923.1V1100.1M527.99,923.1V1100.1M554.41,923.1V1100.1M580.84,923.1V1100.1M607.26,923.1V1100.1M633.68,923.1V1100.1M660.10,923.1V1100.1M290.2,923.10H660.1M290.2,948.39H660.1M290.2,973.67H660.1M290.2,998.96H660.1M290.2,1024.24H660.1M290.2,1049.53H660.1M290.2,1074.81H660.1M290.2,1100.10H660.1" stroke="#A9A3B9" stroke-width="1.15" fill="none"/>
<text transform="translate(305.01,1115.2) rotate(-90) scale(1,1.15)" font-size="10.6" text-anchor="middle" fill="#111" stroke="#111" stroke-width="0.25">T1</text>
<text transform="translate(331.43,1115.2) rotate(-90) scale(1,1.15)" font-size="10.6" text-anchor="middle" fill="#111" stroke="#111" stroke-width="0.25">T2</text>
<text transform="translate(357.85,1115.2) rotate(-90) scale(1,1.15)" font-size="10.6" text-anchor="middle" fill="#111" stroke="#111" stroke-width="0.25">T3</text>
<text transform="translate(384.27,1115.2) rotate(-90) scale(1,1.15)" font-size="10.6" text-anchor="middle" fill="#111" stroke="#111" stroke-width="0.25">T4</text>
<text transform="translate(410.70,1115.2) rotate(-90) scale(1,1.15)" font-size="10.6" text-anchor="middle" fill="#111" stroke="#111" stroke-width="0.25">T5</text>
<text transform="translate(437.12,1115.2) rotate(-90) scale(1,1.15)" font-size="10.6" text-anchor="middle" fill="#111" stroke="#111" stroke-width="0.25">T6</text>
<text transform="translate(463.54,1115.2) rotate(-90) scale(1,1.15)" font-size="10.6" text-anchor="middle" fill="#111" stroke="#111" stroke-width="0.25">T7</text>
<text transform="translate(489.96,1115.2) rotate(-90) scale(1,1.15)" font-size="10.6" text-anchor="middle" fill="#111" stroke="#111" stroke-width="0.25">T8</text>
<text transform="translate(516.38,1115.2) rotate(-90) scale(1,1.15)" font-size="10.6" text-anchor="middle" fill="#111" stroke="#111" stroke-width="0.25">T9</text>
<text transform="translate(544.10,1113.9) rotate(-90) scale(1,1.15)" font-size="10.6" text-anchor="middle" fill="#111" stroke="#111" stroke-width="0.25">T10</text>
<text transform="translate(570.53,1113.9) rotate(-90) scale(1,1.15)" font-size="10.6" text-anchor="middle" fill="#111" stroke="#111" stroke-width="0.25">T11</text>
<text transform="translate(596.95,1113.9) rotate(-90) scale(1,1.15)" font-size="10.6" text-anchor="middle" fill="#111" stroke="#111" stroke-width="0.25">T12</text>
<text transform="translate(623.37,1113.9) rotate(-90) scale(1,1.15)" font-size="10.6" text-anchor="middle" fill="#111" stroke="#111" stroke-width="0.25">T13</text>
<text transform="translate(649.79,1113.9) rotate(-90) scale(1,1.15)" font-size="10.6" text-anchor="middle" fill="#111" stroke="#111" stroke-width="0.25">T14</text>
<rect x="682.0" y="923.0" width="369.70" height="177.10" fill="#281A4A"/>
<rect x="761.22" y="923.00" width="26.41" height="25.30" fill="#DFD73C"/>
<rect x="787.63" y="923.00" width="26.41" height="25.30" fill="#3FA56D"/>
<rect x="840.44" y="923.00" width="26.41" height="25.30" fill="#DFD73C"/>
<rect x="866.85" y="923.00" width="26.41" height="25.30" fill="#55AA62"/>
<rect x="893.26" y="923.00" width="26.41" height="25.30" fill="#70B45A"/>
<rect x="919.66" y="923.00" width="26.41" height="25.30" fill="#9BC04F"/>
<rect x="946.07" y="923.00" width="26.41" height="25.30" fill="#47A76A"/>
<rect x="972.48" y="923.00" width="26.41" height="25.30" fill="#27374F"/>
<rect x="998.89" y="923.00" width="26.41" height="25.30" fill="#DFD73C"/>
<rect x="1025.29" y="923.00" width="26.41" height="25.30" fill="#DFD73C"/>
<rect x="761.22" y="948.30" width="26.41" height="25.30" fill="#1F4660"/>
<rect x="893.26" y="948.30" width="26.41" height="25.30" fill="#1F3C5C"/>
<rect x="946.07" y="948.30" width="26.41" height="25.30" fill="#262C55"/>
<rect x="972.48" y="948.30" width="26.41" height="25.30" fill="#272650"/>
<rect x="682.00" y="973.60" width="26.41" height="25.30" fill="#208273"/>
<rect x="761.22" y="973.60" width="26.41" height="25.30" fill="#DFD73C"/>
<rect x="814.04" y="973.60" width="26.41" height="25.30" fill="#DFD73C"/>
<rect x="840.44" y="973.60" width="26.41" height="25.30" fill="#B3C94A"/>
<rect x="866.85" y="973.60" width="26.41" height="25.30" fill="#8FBE52"/>
<rect x="893.26" y="973.60" width="26.41" height="25.30" fill="#DFD73C"/>
<rect x="919.66" y="973.60" width="26.41" height="25.30" fill="#DFD73C"/>
<rect x="946.07" y="973.60" width="26.41" height="25.30" fill="#20836F"/>
<rect x="972.48" y="973.60" width="26.41" height="25.30" fill="#262C55"/>
<rect x="998.89" y="973.60" width="26.41" height="25.30" fill="#CDD245"/>
<rect x="1025.29" y="973.60" width="26.41" height="25.30" fill="#DFD73C"/>
<rect x="761.22" y="998.90" width="26.41" height="25.30" fill="#243A58"/>
<rect x="946.07" y="998.90" width="26.41" height="25.30" fill="#262A52"/>
<rect x="682.00" y="1024.20" width="26.41" height="25.30" fill="#21585F"/>
<rect x="708.41" y="1024.20" width="26.41" height="25.30" fill="#6AB35C"/>
<rect x="734.81" y="1024.20" width="26.41" height="25.30" fill="#214E5E"/>
<rect x="761.22" y="1024.20" width="26.41" height="25.30" fill="#DFD73C"/>
<rect x="787.63" y="1024.20" width="26.41" height="25.30" fill="#3DA66C"/>
<rect x="814.04" y="1024.20" width="26.41" height="25.30" fill="#62B05E"/>
<rect x="840.44" y="1024.20" width="26.41" height="25.30" fill="#229A73"/>
<rect x="866.85" y="1024.20" width="26.41" height="25.30" fill="#3DA66C"/>
<rect x="893.26" y="1024.20" width="26.41" height="25.30" fill="#66B15D"/>
<rect x="919.66" y="1024.20" width="26.41" height="25.30" fill="#72B55A"/>
<rect x="946.07" y="1024.20" width="26.41" height="25.30" fill="#21896F"/>
<rect x="1025.29" y="1024.20" width="26.41" height="25.30" fill="#DFD73C"/>
<rect x="893.26" y="1049.50" width="26.41" height="25.30" fill="#262A52"/>
<rect x="893.26" y="1074.80" width="26.41" height="25.30" fill="#272E55"/>
<rect x="919.66" y="1074.80" width="26.41" height="25.30" fill="#272E55"/>
<path d="M682.00,923.0V1100.1M708.41,923.0V1100.1M734.81,923.0V1100.1M761.22,923.0V1100.1M787.63,923.0V1100.1M814.04,923.0V1100.1M840.44,923.0V1100.1M866.85,923.0V1100.1M893.26,923.0V1100.1M919.66,923.0V1100.1M946.07,923.0V1100.1M972.48,923.0V1100.1M998.89,923.0V1100.1M1025.29,923.0V1100.1M1051.70,923.0V1100.1M682.0,923.00H1051.7M682.0,948.30H1051.7M682.0,973.60H1051.7M682.0,998.90H1051.7M682.0,1024.20H1051.7M682.0,1049.50H1051.7M682.0,1074.80H1051.7M682.0,1100.10H1051.7" stroke="#A9A3B9" stroke-width="1.15" fill="none"/>
<text transform="translate(696.70,1114.1) rotate(-90) scale(1,1.15)" font-size="10.6" text-anchor="middle" fill="#111" stroke="#111" stroke-width="0.25">M1</text>
<text transform="translate(723.11,1114.1) rotate(-90) scale(1,1.15)" font-size="10.6" text-anchor="middle" fill="#111" stroke="#111" stroke-width="0.25">M2</text>
<text transform="translate(749.52,1114.1) rotate(-90) scale(1,1.15)" font-size="10.6" text-anchor="middle" fill="#111" stroke="#111" stroke-width="0.25">M3</text>
<text transform="translate(775.92,1114.1) rotate(-90) scale(1,1.15)" font-size="10.6" text-anchor="middle" fill="#111" stroke="#111" stroke-width="0.25">M4</text>
<text transform="translate(802.33,1114.1) rotate(-90) scale(1,1.15)" font-size="10.6" text-anchor="middle" fill="#111" stroke="#111" stroke-width="0.25">M5</text>
<text transform="translate(828.74,1114.1) rotate(-90) scale(1,1.15)" font-size="10.6" text-anchor="middle" fill="#111" stroke="#111" stroke-width="0.25">M6</text>
<text transform="translate(855.15,1114.1) rotate(-90) scale(1,1.15)" font-size="10.6" text-anchor="middle" fill="#111" stroke="#111" stroke-width="0.25">M7</text>
<text transform="translate(881.55,1114.1) rotate(-90) scale(1,1.15)" font-size="10.6" text-anchor="middle" fill="#111" stroke="#111" stroke-width="0.25">M8</text>
<text transform="translate(907.96,1114.1) rotate(-90) scale(1,1.15)" font-size="10.6" text-anchor="middle" fill="#111" stroke="#111" stroke-width="0.25">M9</text>
<text transform="translate(936.60,1113.7) rotate(-90) scale(1,1.15)" font-size="10.6" text-anchor="middle" fill="#111" stroke="#111" stroke-width="0.25">M10</text>
<text transform="translate(963.40,1113.7) rotate(-90) scale(1,1.15)" font-size="10.6" text-anchor="middle" fill="#111" stroke="#111" stroke-width="0.25">M11</text>
<text transform="translate(988.10,1113.7) rotate(-90) scale(1,1.15)" font-size="10.6" text-anchor="middle" fill="#111" stroke="#111" stroke-width="0.25">M12</text>
<text transform="translate(1016.90,1113.7) rotate(-90) scale(1,1.15)" font-size="10.6" text-anchor="middle" fill="#111" stroke="#111" stroke-width="0.25">M13</text>
<text transform="translate(1040.50,1113.7) rotate(-90) scale(1,1.15)" font-size="10.6" text-anchor="middle" fill="#111" stroke="#111" stroke-width="0.25">M14</text>
<rect x="289.9" y="899.1" width="370.2" height="16.0" fill="#EFEFEF"/>
<rect x="682.0" y="897.8" width="369.7" height="17.7" fill="#E31116"/>
<text transform="translate(289.30,887.20) scale(1.090,1)" font-size="9.6" font-weight="bold" fill="#111">Group</text>
<text transform="translate(686.80,887.40) scale(1.090,1)" font-size="9.6" font-weight="bold" fill="#111">Group</text>
<text transform="translate(1057.30,939.80) scale(1.043,1)" font-size="16.0" fill="#111" stroke="#111" stroke-width="0.25">H(5)N(2)</text>
<text transform="translate(1057.30,964.40) scale(1.043,1)" font-size="16.0" fill="#111" stroke="#111" stroke-width="0.25">H(5)N(2)F(1)</text>
<text transform="translate(1057.30,990.60) scale(1.043,1)" font-size="16.0" fill="#111" stroke="#111" stroke-width="0.25">H(6)N(2)</text>
<text transform="translate(1057.30,1017.40) scale(1.043,1)" font-size="16.0" fill="#111" stroke="#111" stroke-width="0.25">H(5)N(2)pH(1)</text>
<text transform="translate(1057.30,1043.80) scale(1.043,1)" font-size="16.0" fill="#111" stroke="#111" stroke-width="0.25">H(7)N(2)</text>
<text transform="translate(1057.30,1068.10) scale(1.043,1)" font-size="16.0" fill="#111" stroke="#111" stroke-width="0.25">H(6)N(2)pH(1)</text>
<text transform="translate(1057.30,1093.70) scale(1.043,1)" font-size="16.0" fill="#111" stroke="#111" stroke-width="0.25">H(8)N(2)</text>
<text transform="translate(1196.40,905.90) scale(1.090,1)" font-size="9.6" font-weight="bold" fill="#111">Group</text>
<rect x="1196.1" y="910.0" width="15.6" height="14.7" fill="#EFEFF1"/>
<rect x="1196.1" y="924.9" width="15.6" height="14.8" fill="#E31116"/>
<text transform="translate(1215.30,921.70) scale(1.010,1)" font-size="10.4" fill="#111">Cancer</text>
<text transform="translate(1215.30,935.90) scale(1.010,1)" font-size="10.4" fill="#111">CRLM</text>
<defs><linearGradient id="vir" x1="0" y1="1" x2="0" y2="0"><stop offset="0" stop-color="#251A48"/><stop offset="0.17" stop-color="#23385C"/><stop offset="0.33" stop-color="#1F5F6C"/><stop offset="0.5" stop-color="#21876F"/><stop offset="0.67" stop-color="#45AA6A"/><stop offset="0.83" stop-color="#98C654"/><stop offset="1" stop-color="#E2DB3C"/></linearGradient></defs>
<rect x="1195.5" y="969.0" width="8.6" height="123.6" fill="url(#vir)"/>
<text transform="translate(1207.80,973.30)" font-size="10.3" fill="#111">0.03</text>
<text transform="translate(1207.80,1014.30)" font-size="10.3" fill="#111">0.02</text>
<text transform="translate(1207.80,1055.50)" font-size="10.3" fill="#111">0.01</text>
<text transform="translate(1207.80,1096.50)" font-size="10.3" fill="#111">0</text>
</g>
</svg>
</body></html>
